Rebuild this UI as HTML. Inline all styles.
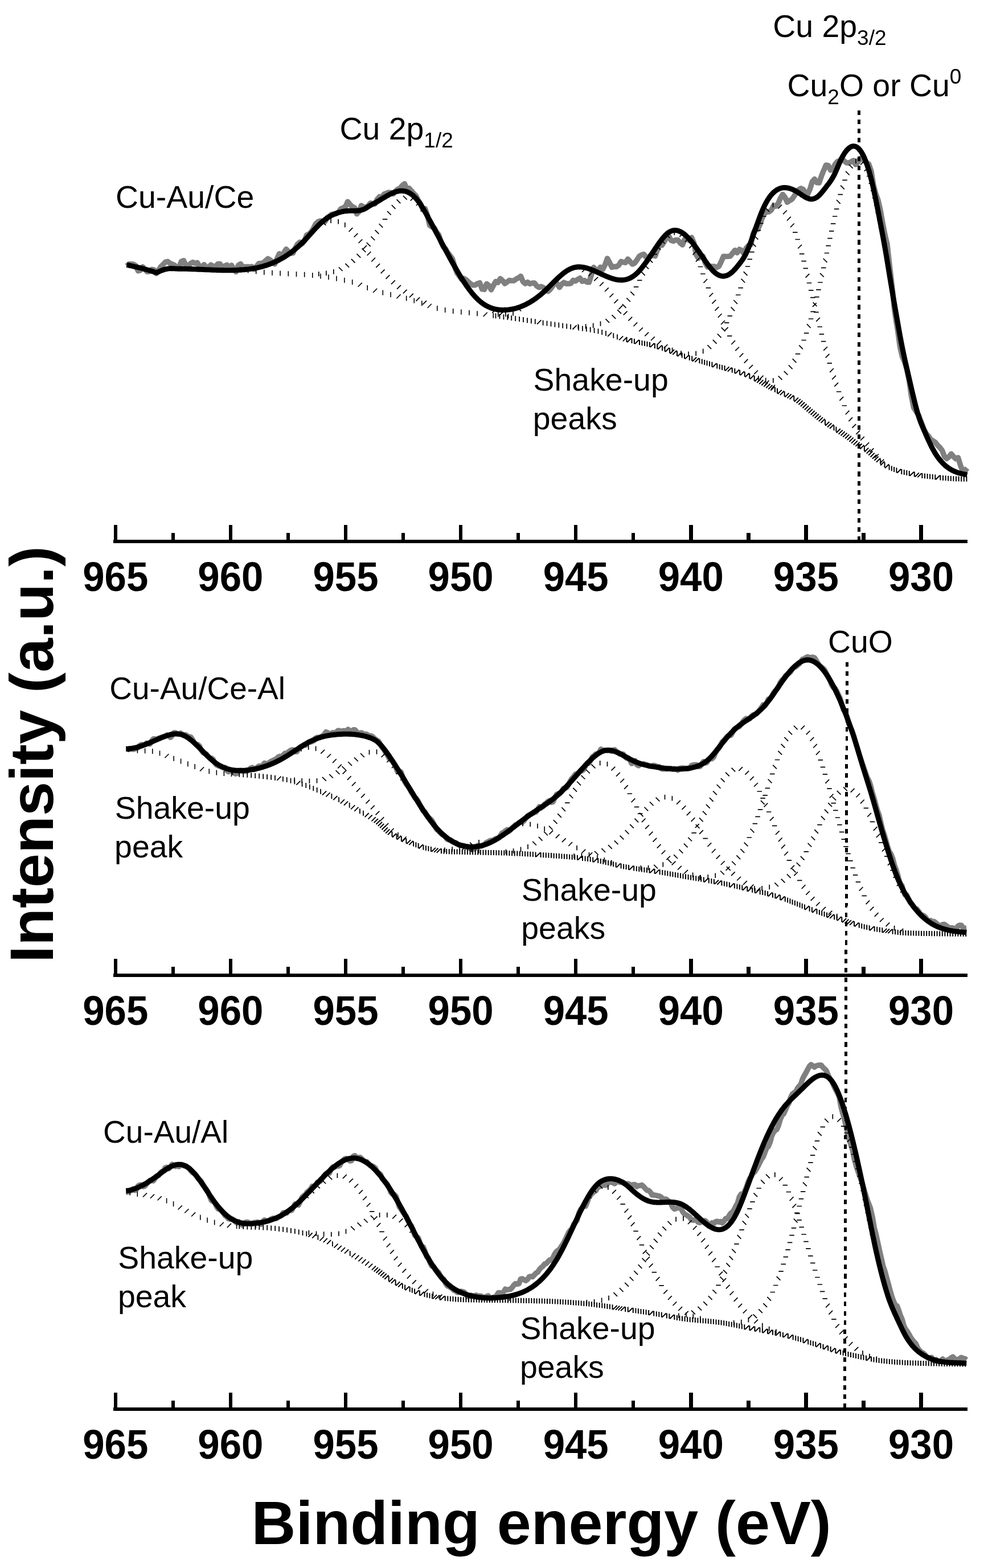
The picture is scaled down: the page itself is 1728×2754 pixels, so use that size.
<!DOCTYPE html>
<html lang="en"><head><meta charset="utf-8"><title>Cu 2p XPS spectra</title>
<style>
html,body{margin:0;padding:0;background:#fff}
body{width:1728px;height:2754px;overflow:hidden;position:relative;font-family:"Liberation Sans", sans-serif}
</style></head>
<body>
<svg width="1728" height="2754" viewBox="0 0 1728 2754" style="position:absolute;left:0;top:0;display:block">
<rect x="0" y="0" width="1728" height="2754" fill="#fff"/>
<path d="M222.5,467.3 L226.5,463.8 L230.5,463.8 L234.5,464.2 L238.5,466.8 L242.5,475.8 L246.5,474.7 L250.5,468.6 L254.5,472.9 L258.5,477.3 L262.5,476.8 L266.5,473.2 L270.5,473.9 L274.5,480.5 L278.5,474.3 L282.5,468.3 L286.5,464.5 L290.5,460.2 L294.5,459.3 L298.5,462.4 L302.5,464.1 L306.5,465.9 L310.5,470.8 L314.5,468.9 L318.5,459.1 L322.5,457.6 L326.5,466.0 L330.5,468.2 L334.5,462.8 L338.5,460.6 L342.5,462.5 L346.5,461.3 L350.5,468.5 L354.5,468.5 L358.5,464.7 L362.5,470.6 L366.5,468.7 L370.5,465.2 L374.5,467.6 L378.5,468.3 L382.5,463.5 L386.5,463.6 L390.5,472.7 L394.5,467.0 L398.5,465.3 L402.5,471.2 L406.5,465.9 L410.5,472.5 L414.5,477.4 L418.5,466.1 L422.5,463.5 L426.5,469.7 L430.5,468.5 L434.5,468.6 L438.5,468.7 L442.5,468.3 L446.5,473.1 L450.5,467.8 L454.5,462.7 L458.5,462.6 L462.5,461.5 L466.5,457.9 L470.5,454.3 L474.5,456.6 L478.5,460.5 L482.5,463.8 L486.5,454.3 L490.5,445.6 L494.5,450.5 L498.5,444.0 L502.5,437.6 L506.5,441.6 L510.5,444.9 L514.5,444.6 L518.5,435.8 L522.5,428.6 L526.5,425.3 L530.5,428.1 L534.5,423.5 L538.5,412.8 L542.5,411.1 L546.5,407.3 L550.5,400.9 L554.5,393.0 L558.5,389.5 L562.5,388.0 L566.5,388.6 L570.5,389.3 L574.5,382.2 L578.5,379.8 L582.5,376.4 L586.5,375.9 L590.5,375.4 L594.5,372.4 L598.5,366.8 L602.5,365.1 L606.5,363.1 L610.5,354.2 L614.5,358.9 L618.5,362.9 L622.5,364.6 L626.5,375.7 L630.5,371.9 L634.5,361.0 L638.5,363.4 L642.5,365.3 L646.5,361.5 L650.5,356.7 L654.5,357.7 L658.5,358.2 L662.5,349.9 L666.5,345.4 L670.5,346.8 L674.5,341.0 L678.5,339.5 L682.5,338.0 L686.5,338.5 L690.5,340.5 L694.5,336.0 L698.5,332.2 L702.5,330.9 L706.5,325.8 L710.5,322.8 L714.5,332.4 L718.5,330.7 L722.5,335.1 L726.5,339.9 L730.5,343.8 L734.5,351.9 L738.5,357.8 L742.5,367.7 L746.5,366.5 L750.5,377.8 L754.5,395.7 L758.5,398.6 L762.5,400.1 L766.5,407.4 L770.5,412.5 L774.5,424.6 L778.5,433.7 L782.5,437.1 L786.5,443.7 L790.5,449.0 L794.5,454.5 L798.5,468.3 L802.5,479.2 L806.5,484.8 L810.5,490.7 L814.5,489.1 L818.5,491.3 L822.5,495.0 L826.5,498.6 L830.5,500.7 L834.5,500.7 L838.5,498.0 L842.5,496.9 L846.5,507.9 L850.5,508.4 L854.5,498.5 L858.5,501.3 L862.5,508.9 L866.5,501.4 L870.5,494.5 L874.5,496.2 L878.5,489.3 L882.5,492.8 L886.5,498.0 L890.5,495.3 L894.5,492.3 L898.5,493.1 L902.5,493.0 L906.5,490.0 L910.5,488.0 L914.5,485.1 L918.5,494.8 L922.5,498.1 L926.5,495.5 L930.5,498.5 L934.5,497.3 L938.5,496.9 L942.5,502.2 L946.5,504.7 L950.5,503.3 L954.5,505.0 L958.5,509.7 L962.5,511.7 L966.5,508.1 L970.5,502.5 L974.5,494.6 L978.5,498.2 L982.5,504.7 L986.5,499.1 L990.5,496.1 L994.5,498.2 L998.5,498.3 L1002.5,497.8 L1006.5,492.3 L1010.5,493.8 L1014.5,490.8 L1018.5,488.5 L1022.5,494.2 L1026.5,492.6 L1030.5,495.4 L1034.5,495.7 L1038.5,483.0 L1042.5,469.6 L1046.5,474.3 L1050.5,474.6 L1054.5,469.2 L1058.5,473.1 L1062.5,465.2 L1066.5,453.9 L1070.5,461.1 L1074.5,469.4 L1078.5,468.2 L1082.5,468.4 L1086.5,465.9 L1090.5,459.4 L1094.5,460.5 L1098.5,461.2 L1102.5,455.0 L1106.5,459.3 L1110.5,464.0 L1114.5,462.1 L1118.5,456.7 L1122.5,450.3 L1126.5,447.7 L1130.5,446.5 L1134.5,451.7 L1138.5,451.7 L1142.5,448.8 L1146.5,448.5 L1150.5,449.6 L1154.5,438.7 L1158.5,430.1 L1162.5,430.7 L1166.5,424.4 L1170.5,417.6 L1174.5,414.9 L1178.5,422.2 L1182.5,423.6 L1186.5,421.5 L1190.5,421.5 L1194.5,426.8 L1198.5,430.0 L1202.5,420.1 L1206.5,419.4 L1210.5,422.6 L1214.5,417.1 L1218.5,426.4 L1222.5,447.1 L1226.5,453.7 L1230.5,449.3 L1234.5,449.9 L1238.5,461.8 L1242.5,468.9 L1246.5,467.4 L1250.5,467.9 L1254.5,467.9 L1258.5,469.7 L1262.5,467.7 L1266.5,459.6 L1270.5,450.2 L1274.5,450.6 L1278.5,450.3 L1282.5,449.9 L1286.5,444.8 L1290.5,439.6 L1294.5,444.0 L1298.5,437.9 L1302.5,440.0 L1306.5,445.6 L1310.5,435.5 L1314.5,431.1 L1318.5,429.5 L1322.5,410.6 L1326.5,402.3 L1330.5,403.2 L1334.5,394.4 L1338.5,383.0 L1342.5,374.9 L1346.5,372.2 L1350.5,372.0 L1354.5,369.0 L1358.5,361.0 L1362.5,362.1 L1366.5,357.6 L1370.5,348.2 L1374.5,341.4 L1378.5,346.5 L1382.5,355.3 L1386.5,352.2 L1390.5,350.2 L1394.5,344.7 L1398.5,338.3 L1402.5,333.1 L1406.5,330.9 L1410.5,332.6 L1414.5,339.3 L1418.5,340.7 L1422.5,331.8 L1426.5,318.7 L1430.5,314.6 L1434.5,320.8 L1438.5,321.0 L1442.5,309.3 L1446.5,299.3 L1450.5,290.0 L1454.5,290.6 L1458.5,298.9 L1462.5,296.9 L1466.5,288.5 L1470.5,283.8 L1474.5,282.1 L1478.5,278.3 L1482.5,282.8 L1486.5,285.8 L1490.5,286.2 L1494.5,284.1 L1498.5,281.9 L1502.5,288.8 L1506.5,285.0 L1510.5,278.3 L1515.3,280.4 L1520.6,284.7 L1525.7,288.2 L1530.0,300.7 L1534.0,325.7 L1538.0,340.4 L1542.0,351.5 L1546.0,369.0 L1550.0,391.7 L1554.0,412.2 L1558.0,429.1 L1561.7,461.8 L1564.7,487.0 L1567.4,510.3 L1570.4,542.0 L1573.4,561.9 L1576.6,581.3 L1580.5,609.1 L1584.5,626.3 L1588.5,635.6 L1592.5,649.0 L1596.5,668.6 L1600.5,695.9 L1604.5,715.7 L1608.5,722.3 L1612.9,728.8 L1617.7,740.9 L1622.4,753.8 L1626.5,761.3 L1630.5,765.8 L1634.5,771.8 L1638.5,774.3 L1642.5,776.9 L1646.5,782.1 L1650.5,786.0 L1654.5,791.1 L1658.5,801.7 L1662.5,805.5 L1666.5,802.3 L1670.5,797.2 L1674.5,802.0 L1678.5,805.8 L1682.5,803.7 L1686.5,816.9 L1690.5,827.5 L1694.5,827.1 L1698.5,822.0" fill="none" stroke="#808080" stroke-width="9.5" stroke-linejoin="round" stroke-linecap="butt"/>
<path d="M421.5,468.7L421.5,477.7M435.6,470.6L435.6,479.6M449.7,472.3L449.7,481.3M463.8,473.7L463.8,482.7M478.0,474.8L478.0,483.8M492.1,475.6L492.1,484.6M506.3,476.2L506.3,485.2M520.5,476.9L520.5,485.9M534.7,477.8L534.7,486.8M548.8,479.0L548.8,488.0M563.0,480.5L563.0,489.5M577.0,482.3L577.0,491.3M591.0,484.8L591.0,493.8M604.9,487.7L604.9,496.7M618.7,491.1L618.7,500.1M635.7,496.6L628.6,503.7M645.2,501.1L645.2,510.1M662.2,506.8L655.0,514.0M672.3,509.6L672.3,518.6M686.1,513.0L686.1,522.0M703.5,517.1L696.4,524.2M713.7,519.6L713.7,528.6M727.3,523.6L727.3,532.6M740.8,528.2L740.8,537.2M757.8,533.7L750.7,540.8M767.8,536.9L767.8,545.9M781.7,539.9L781.7,548.9M795.7,541.9L795.7,550.9M809.9,543.5L809.9,552.5M824.0,544.8L824.0,553.8M838.1,546.2L838.1,555.2M855.8,548.8L848.7,555.9M866.3,549.7L866.3,558.7" fill="none" stroke="#000" stroke-width="1.6"/>
<path d="M870.5,550.2L870.5,559.2M877.4,551.2L877.4,560.2M884.4,552.2L884.4,561.2M891.3,553.1L891.3,562.1M898.2,554.1L898.2,563.1M905.2,555.1L905.2,564.1M912.1,556.1L912.1,565.1M919.0,557.1L919.0,566.1M925.9,558.2L925.9,567.2M932.9,559.2L932.9,568.2M939.8,560.2L939.8,569.2M950.3,562.2L943.1,569.4M953.6,562.4L953.6,571.4M960.5,563.4L960.5,572.4M967.5,564.5L967.5,573.5M974.4,565.5L974.4,574.5M981.3,566.6L981.3,575.6M988.2,567.6L988.2,576.6M995.2,568.6L995.2,577.6M1002.1,569.5L1002.1,578.5M1012.6,571.4L1005.5,578.5M1016.0,571.4L1016.0,580.4M1022.9,572.4L1022.9,581.4M1029.8,573.5L1029.8,582.5M1036.7,574.6L1036.7,583.6M1043.6,575.9L1043.6,584.9M1050.5,577.3L1050.5,586.3M1057.2,579.0L1057.2,588.0M1064.0,580.9L1064.0,589.9M1074.2,583.9L1067.1,591.0M1077.3,585.1L1077.3,594.1M1084.0,587.3L1084.0,596.3M1094.2,590.3L1087.1,597.4M1101.0,592.2L1093.9,599.3" fill="none" stroke="#000" stroke-width="1.8"/>
<path d="M1100.5,592.0L1100.5,601.0M1108.5,594.0L1101.4,601.2M1109.5,594.1L1109.5,603.1M1113.9,595.1L1113.9,604.1M1122.0,597.0L1114.9,604.1M1123.0,597.0L1123.0,606.0M1127.5,597.9L1127.5,606.9M1132.0,598.8L1132.0,607.8M1136.5,599.8L1136.5,608.8M1141.0,600.8L1141.0,609.8M1149.0,602.8L1141.9,609.9M1149.9,603.0L1149.9,612.0M1154.3,604.2L1154.3,613.2M1162.3,606.4L1155.2,613.5M1163.1,606.9L1163.1,615.9M1167.5,608.4L1167.5,617.4M1175.4,610.8L1168.3,618.0M1176.1,611.5L1176.1,620.5M1184.0,614.0L1176.9,621.2M1188.3,615.7L1181.2,622.8M1189.0,616.4L1189.0,625.4M1196.9,618.9L1189.8,626.0M1197.7,619.5L1197.7,628.5M1202.0,621.0L1202.0,630.0M1210.0,623.4L1202.8,630.6M1210.8,623.9L1210.8,632.9M1215.2,625.3L1215.2,634.3M1223.1,627.5L1216.0,634.7M1227.5,628.9L1220.4,636.0M1228.4,629.3L1228.4,638.3M1232.8,630.6L1232.8,639.6M1237.2,631.9L1237.2,640.9M1241.6,633.2L1241.6,642.2M1246.0,634.4L1246.0,643.4M1250.4,635.7L1250.4,644.7M1258.4,638.0L1251.3,645.1M1259.3,638.4L1259.3,647.4M1263.7,639.7L1263.7,648.7M1268.1,640.9L1268.1,649.9M1272.5,642.1L1272.5,651.1M1280.5,644.3L1273.4,651.4M1285.0,645.5L1277.8,652.6M1285.8,645.8L1285.8,654.8M1290.3,647.1L1290.3,656.1M1298.2,649.3L1291.1,656.4M1299.1,649.7L1299.1,658.7M1307.0,652.1L1299.9,659.2M1307.8,652.7L1307.8,661.7M1315.7,655.2L1308.5,662.4M1316.3,656.0L1316.3,665.0M1324.1,658.9L1317.0,666.0M1324.7,660.0L1324.7,669.0M1332.3,663.0L1325.2,670.1M1336.4,665.2L1329.2,672.3M1340.4,667.4L1333.3,674.5M1344.4,669.7L1337.3,676.8M1348.4,672.0L1341.3,679.1M1352.4,674.2L1345.3,681.4M1356.4,676.5L1349.3,683.6M1360.4,678.7L1353.3,685.8M1360.9,679.9L1360.9,688.9M1365.0,682.0L1365.0,691.0M1372.8,684.9L1365.6,692.0M1377.0,686.8L1369.8,693.9M1377.6,687.6L1377.6,696.6M1385.4,690.4L1378.3,697.5M1389.6,692.2L1382.5,699.4M1393.8,694.2L1386.7,701.3M1394.3,695.3L1394.3,704.3M1401.9,698.5L1394.8,705.6M1405.8,700.9L1398.7,708.0M1409.5,703.6L1402.4,710.8M1413.1,706.5L1406.0,713.7M1416.6,709.5L1409.5,716.7M1420.1,712.6L1412.9,719.7M1423.6,715.5L1416.4,722.7M1427.1,718.4L1420.0,725.6M1430.7,721.4L1423.6,728.5M1434.2,724.3L1427.1,731.4M1437.8,727.2L1430.6,734.4M1441.4,730.1L1434.2,737.2M1445.0,732.9L1437.9,740.0M1448.7,735.6L1441.6,742.7M1449.0,737.3L1449.0,746.3M1456.4,740.7L1449.3,747.8M1460.3,743.2L1453.1,750.3M1464.2,745.6L1457.0,752.8M1464.5,747.2L1464.5,756.2M1468.4,749.6L1468.4,758.6M1475.8,753.0L1468.7,760.2M1479.7,755.5L1472.6,762.6M1483.6,757.9L1476.5,765.1M1487.4,760.4L1480.3,767.6M1491.2,763.1L1484.1,770.2M1494.9,765.8L1487.8,772.9M1498.6,768.6L1491.4,775.8M1502.2,771.5L1495.0,778.6M1505.9,774.2L1498.7,781.4M1509.7,776.8L1502.5,783.9M1513.6,779.2L1506.4,786.4M1517.5,781.6L1510.4,788.7M1517.9,783.0L1517.9,792.0M1525.2,786.6L1518.1,793.7M1528.8,789.4L1521.7,796.6M1532.3,792.5L1525.2,799.6M1535.7,795.6L1528.6,802.7M1539.1,798.7L1532.0,805.8M1542.6,801.6L1535.5,808.8M1546.2,804.6L1539.0,811.7M1546.2,806.5L1546.2,815.5M1553.3,810.3L1546.2,817.4M1553.5,812.0L1553.5,821.0M1561.1,815.3L1554.0,822.4M1561.6,816.4L1561.6,825.4M1565.8,818.3L1565.8,827.3M1570.1,820.0L1570.1,829.0M1574.4,821.5L1574.4,830.5M1582.4,823.7L1575.3,830.8M1583.3,823.9L1583.3,832.9M1587.8,825.0L1587.8,834.0M1592.3,825.9L1592.3,834.9M1596.8,826.9L1596.8,835.9M1604.9,828.7L1597.7,835.8M1605.8,828.6L1605.8,837.6M1613.9,830.4L1606.8,837.5M1618.5,831.1L1611.3,838.2M1619.4,830.9L1619.4,839.9M1624.0,831.5L1624.0,840.5M1628.6,832.0L1628.6,841.0M1633.1,832.6L1633.1,841.6M1637.7,833.1L1637.7,842.1M1642.3,833.6L1642.3,842.6M1650.4,835.0L1643.3,842.2M1651.4,834.6L1651.4,843.6M1656.0,835.0L1656.0,844.0M1660.6,835.3L1660.6,844.3M1665.2,835.7L1665.2,844.7M1669.8,835.9L1669.8,844.9M1674.4,836.2L1674.4,845.2M1679.0,836.4L1679.0,845.4M1683.6,836.5L1683.6,845.5M1688.2,836.7L1688.2,845.7M1692.8,836.7L1692.8,845.7M1697.4,836.8L1697.4,845.8" fill="none" stroke="#000" stroke-width="2.0"/>
<path d="M565.3,388.9L572.1,395.7M581.1,383.6L581.1,392.1M594.1,384.9L594.1,393.4M605.8,390.8L605.8,399.3M619.3,400.1L612.6,406.9M628.3,409.8L621.6,416.5M636.3,420.3L629.6,427.0M643.9,431.1L637.2,437.8M651.4,442.0L644.7,448.7M659.0,452.7L652.3,459.5M667.1,463.2L660.3,469.9M675.5,473.4L668.7,480.1M684.3,483.1L677.6,489.9M693.8,492.3L687.1,499.1M703.9,500.8L697.2,507.6M714.6,508.6L707.9,515.3M725.8,515.6L719.0,522.3M737.2,522.2L730.5,528.9M749.0,528.2L742.3,534.9" fill="none" stroke="#000" stroke-width="1.7"/>
<path d="M559.8,476.9L559.8,485.4M572.9,475.6L572.9,484.1M585.8,472.9L585.8,481.4M594.9,469.3L601.6,476.0M606.4,462.9L613.1,469.7M616.8,454.9L623.6,461.6M626.5,445.9L633.3,452.6M635.5,436.3L642.3,443.0M643.8,426.0L650.6,432.8M651.5,415.3L658.2,422.0M658.6,404.2L665.4,410.9M665.6,393.0L672.3,399.7M671.8,385.2L680.3,385.2M680.0,370.8L686.7,377.5M687.8,360.2L694.5,366.9M696.6,350.4L703.3,357.1M707.9,343.9L714.7,350.6M727.4,345.9L720.7,352.6M737.5,354.2L730.8,361.0M745.5,364.8L738.8,371.5" fill="none" stroke="#000" stroke-width="1.7"/>
<path d="M871.1,542.8L864.4,549.6M883.3,547.9L876.5,554.6M892.5,551.0L892.5,559.5" fill="none" stroke="#000" stroke-width="1.7"/>
<path d="M874.8,548.1L874.8,556.6M888.0,547.7L888.0,556.2M901.1,546.0L901.1,554.5M908.6,539.8L915.3,546.5" fill="none" stroke="#000" stroke-width="1.7"/>
<path d="M1028.8,471.2L1022.1,478.0M1039.9,478.2L1033.2,485.0M1050.1,486.7L1043.3,493.4M1059.8,495.6L1053.1,502.3M1068.8,505.3L1062.1,512.0M1077.2,515.5L1070.5,522.2M1085.3,525.9L1078.5,532.6M1093.3,536.4L1086.6,543.1M1101.6,546.7L1094.8,553.4M1110.2,556.7L1103.4,563.4M1119.2,566.3L1112.5,573.0M1128.9,575.3L1122.1,582.0M1139.1,583.7L1132.3,590.4M1149.8,591.3L1143.1,598.0M1161.0,598.3L1154.3,605.1M1172.4,605.0L1165.7,611.7M1180.6,610.4L1180.6,618.9" fill="none" stroke="#000" stroke-width="1.7"/>
<path d="M1015.4,569.2L1015.4,577.7M1028.6,568.9L1028.6,577.4M1041.7,567.4L1041.7,575.9M1054.5,564.2L1054.5,572.7M1063.4,560.1L1070.1,566.9M1074.5,553.1L1081.2,559.8M1084.2,544.2L1091.0,550.9M1092.8,534.1L1099.5,540.9M1100.3,523.3L1107.0,530.0M1107.2,512.1L1114.0,518.8M1112.8,503.9L1121.3,503.9M1119.0,492.3L1127.5,492.3M1125.9,477.2L1132.7,483.9M1132.4,465.7L1139.1,472.4M1139.5,454.5L1146.2,461.3M1145.6,446.7L1154.1,446.7M1153.5,432.1L1160.2,438.9M1160.8,421.2L1167.5,427.9M1169.4,411.1L1176.1,417.9M1184.3,404.5L1184.3,413.0M1200.0,409.2L1193.3,415.9M1209.5,418.3L1202.8,425.0M1217.0,429.1L1210.3,435.9M1223.3,440.8L1216.5,447.5M1228.6,452.8L1221.9,459.6M1234.2,468.5L1225.7,468.5M1238.6,481.0L1230.1,481.0M1242.2,490.0L1235.5,496.8M1248.1,505.6L1239.6,505.6M1252.2,514.5L1245.5,521.2M1257.2,526.7L1250.5,533.4M1262.3,538.9L1255.6,545.6M1267.5,551.0L1260.8,557.7M1272.9,563.0L1266.2,569.8M1278.6,574.9L1271.8,581.7M1285.5,590.1L1277.0,590.1M1291.0,598.2L1284.3,605.0M1297.9,609.5L1291.2,616.2M1305.3,620.4L1298.6,627.1M1313.4,630.8L1306.7,637.6M1322.0,640.9L1315.2,647.6M1331.0,650.5L1324.3,657.2M1340.5,659.7L1333.8,666.4M1350.5,668.3L1343.7,675.0M1361.0,676.2L1354.3,683.0" fill="none" stroke="#000" stroke-width="1.7"/>
<path d="M1196.0,616.1L1196.0,624.6M1209.1,617.6L1209.1,626.1M1222.2,616.6L1222.2,625.1M1234.7,612.4L1234.7,620.9M1242.4,606.1L1249.1,612.9M1251.8,596.9L1258.5,603.6M1259.8,586.4L1266.5,593.2M1266.7,575.2L1273.4,581.9M1271.9,566.8L1280.4,566.8M1277.5,554.9L1286.0,554.9M1283.5,539.3L1290.2,546.1M1288.3,527.0L1295.0,533.8M1292.0,518.0L1300.5,518.0M1296.4,505.6L1304.9,505.6M1301.6,489.7L1308.3,496.5M1305.7,477.2L1312.5,483.9M1308.7,468.0L1317.2,468.0M1312.5,455.3L1321.0,455.3M1316.2,442.6L1324.7,442.6M1320.8,426.6L1327.5,433.3M1324.6,414.0L1331.3,420.7M1327.7,404.7L1336.2,404.7M1332.0,392.3L1340.5,392.3M1337.0,380.0L1345.5,380.0M1344.3,365.2L1351.0,371.9M1357.5,355.8L1357.5,364.3M1373.1,359.7L1366.4,366.4M1381.9,369.5L1375.1,376.2M1388.8,380.7L1382.1,387.4M1394.7,392.5L1388.0,399.2M1400.6,408.1L1392.1,408.1M1404.9,420.5L1396.4,420.5M1407.9,429.8L1401.2,436.5M1412.4,445.8L1403.9,445.8M1415.8,458.6L1407.3,458.6M1419.0,471.4L1410.5,471.4M1421.3,480.8L1414.6,487.6M1425.3,497.0L1416.8,497.0M1428.5,509.9L1420.0,509.9M1431.5,522.7L1423.0,522.7M1433.7,532.2L1427.0,538.9M1437.7,548.4L1429.2,548.4M1439.9,557.8L1433.2,564.6M1443.9,574.0L1435.4,574.0M1447.1,586.8L1438.6,586.8M1450.4,599.6L1441.9,599.6M1453.0,609.0L1446.2,615.7M1456.5,621.7L1449.7,628.4M1461.0,637.8L1452.5,637.8M1463.9,647.0L1457.2,653.8M1467.9,659.6L1461.2,666.4M1472.0,672.2L1465.3,678.9M1477.3,688.0L1468.8,688.0M1481.2,696.9L1474.4,703.7M1487.1,712.5L1478.6,712.5M1491.5,721.2L1484.8,728.0M1497.1,733.2L1490.4,739.9M1503.2,744.9L1496.4,751.6M1510.0,756.2L1503.3,762.9M1517.8,766.8L1511.1,773.5M1526.2,777.0L1519.4,783.8M1534.3,787.4L1527.6,794.2M1542.9,797.5L1536.2,804.2M1552.2,806.8L1545.4,813.6" fill="none" stroke="#000" stroke-width="1.7"/>
<path d="M1331.9,660.1L1331.9,668.6M1344.7,663.5L1344.7,672.0M1357.8,664.0L1357.8,672.5M1366.7,660.4L1373.5,667.1M1376.7,651.8L1383.5,658.5M1384.8,641.4L1391.6,648.1M1391.7,630.1L1398.4,636.9M1396.8,621.7L1405.3,621.7M1403.2,606.4L1409.9,613.1M1407.3,597.5L1415.8,597.5M1411.9,585.1L1420.4,585.1M1416.9,569.2L1423.6,576.0M1419.8,560.0L1428.3,560.0M1423.4,547.3L1431.9,547.3M1427.7,531.1L1434.4,537.9M1430.1,521.7L1438.6,521.7M1433.2,508.9L1441.7,508.9M1436.2,496.0L1444.7,496.0M1440.0,479.8L1446.8,486.5M1442.0,470.3L1450.5,470.3M1445.7,454.0L1452.5,460.8M1447.6,444.5L1456.1,444.5M1450.4,431.6L1458.9,431.6M1453.2,418.7L1461.7,418.7M1456.0,405.8L1464.5,405.8M1458.9,392.9L1467.4,392.9M1461.9,380.0L1470.4,380.0M1464.9,367.2L1473.4,367.2M1469.0,351.0L1475.7,357.8M1471.5,341.6L1480.0,341.6M1476.1,325.6L1482.8,332.3M1479.3,316.4L1487.8,316.4M1485.0,300.8L1491.7,307.5M1490.9,289.0L1497.6,295.7M1503.0,278.4L1503.0,286.9M1517.9,282.5L1511.2,289.3M1524.6,293.8L1517.9,300.6M1530.3,309.5L1521.8,309.5M1534.1,322.1L1525.6,322.1M1537.5,334.9L1529.0,334.9M1540.5,347.8L1532.0,347.8M1543.3,360.7L1534.8,360.7M1546.0,373.6L1537.5,373.6M1548.6,386.5L1540.1,386.5M1551.1,399.5L1542.6,399.5" fill="none" stroke="#000" stroke-width="1.7"/>
<path d="M221.3,1315.6 L224.3,1315.8 L227.3,1316.0 L230.3,1315.5 L233.3,1315.9 L236.3,1315.8 L239.3,1313.9 L242.3,1313.1 L245.3,1309.6 L248.3,1307.8 L251.3,1308.5 L254.3,1307.9 L257.3,1305.2 L260.3,1306.0 L263.3,1306.8 L266.3,1301.5 L269.3,1297.7 L272.3,1297.7 L275.3,1298.7 L278.3,1296.7 L281.3,1295.7 L284.3,1294.6 L287.3,1294.0 L290.3,1292.8 L293.3,1290.9 L296.3,1292.4 L299.3,1295.3 L302.3,1291.8 L305.3,1287.1 L308.3,1287.1 L311.3,1288.9 L314.3,1288.8 L317.3,1287.6 L320.3,1290.0 L323.3,1290.5 L326.3,1290.7 L329.3,1293.3 L332.3,1293.7 L335.3,1294.7 L338.3,1299.5 L341.3,1304.5 L344.3,1307.6 L347.3,1307.8 L350.3,1310.4 L353.3,1317.1 L356.3,1321.6 L359.3,1323.4 L362.3,1324.3 L365.3,1328.3 L368.3,1331.5 L371.3,1331.7 L374.3,1333.9 L377.3,1340.0 L380.3,1343.6 L383.3,1345.1 L386.3,1345.8 L389.3,1347.1 L392.3,1348.3 L395.3,1347.9 L398.3,1353.3 L401.3,1355.6 L404.3,1352.8 L407.3,1353.4 L410.3,1356.1 L413.3,1359.1 L416.3,1358.3 L419.3,1353.7 L422.3,1353.1 L425.3,1354.5 L428.3,1353.9 L431.3,1354.7 L434.3,1354.0 L437.3,1352.2 L440.3,1349.0 L443.3,1348.0 L446.3,1351.5 L449.3,1350.5 L452.3,1347.1 L455.3,1345.3 L458.3,1346.6 L461.3,1344.1 L464.3,1340.4 L467.3,1341.3 L470.3,1341.3 L473.3,1338.9 L476.3,1337.0 L479.3,1335.9 L482.3,1334.2 L485.3,1333.0 L488.3,1329.7 L491.3,1328.3 L494.3,1329.5 L497.3,1326.4 L500.3,1323.1 L503.3,1323.7 L506.3,1320.8 L509.3,1318.6 L512.3,1317.1 L515.3,1317.0 L518.3,1320.3 L521.3,1320.2 L524.3,1315.2 L527.3,1312.0 L530.3,1311.0 L533.3,1308.6 L536.3,1309.1 L539.3,1305.5 L542.3,1303.2 L545.3,1303.3 L548.3,1302.2 L551.3,1300.9 L554.3,1296.4 L557.3,1295.1 L560.3,1295.6 L563.3,1294.0 L566.3,1292.4 L569.3,1290.4 L572.3,1285.7 L575.3,1286.8 L578.3,1290.0 L581.3,1288.2 L584.3,1286.7 L587.3,1287.4 L590.3,1286.2 L593.3,1283.3 L596.3,1283.2 L599.3,1285.6 L602.3,1283.6 L605.3,1283.4 L608.3,1284.3 L611.3,1281.0 L614.3,1283.7 L617.3,1285.2 L620.3,1281.8 L623.3,1281.8 L626.3,1285.4 L629.3,1288.3 L632.3,1287.2 L635.3,1287.0 L638.3,1289.6 L641.3,1289.2 L644.3,1289.9 L647.3,1292.1 L650.3,1292.2 L653.3,1293.0 L656.3,1295.7 L659.3,1298.6 L662.3,1300.3 L665.3,1302.6 L668.3,1308.4 L671.3,1313.0 L674.3,1316.6 L677.3,1322.1 L680.3,1325.9 L683.3,1331.8 L686.3,1334.2 L689.3,1336.6 L692.3,1342.0 L695.3,1348.1 L698.3,1355.7 L701.3,1355.1 L704.3,1356.1 L707.3,1364.7 L710.3,1372.1 L713.3,1377.1 L716.3,1380.9 L719.3,1385.4 L722.3,1391.4 L725.3,1395.5 L728.3,1401.0 L731.3,1402.7 L734.3,1407.0 L737.3,1413.4 L740.3,1418.5 L743.3,1424.3 L746.3,1426.1 L749.3,1431.3 L752.3,1435.5 L755.3,1437.8 L758.3,1440.8 L761.3,1445.9 L764.3,1452.4 L767.3,1457.3 L770.3,1459.6 L773.3,1462.7 L776.3,1465.8 L779.3,1466.9 L782.3,1470.2 L785.3,1474.2 L788.3,1475.1 L791.3,1475.2 L794.3,1477.3 L797.3,1479.4 L800.3,1479.9 L803.3,1482.6 L806.3,1484.4 L809.3,1484.7 L812.3,1484.9 L815.3,1485.5 L818.3,1487.8 L821.3,1487.1 L824.3,1489.6 L827.3,1490.9 L830.3,1490.5 L833.3,1491.2 L836.3,1487.4 L839.3,1485.1 L842.3,1486.1 L845.3,1486.1 L848.3,1484.7 L851.3,1483.3 L854.3,1479.6 L857.3,1478.5 L860.3,1476.6 L863.3,1476.0 L866.3,1476.6 L869.3,1473.4 L872.3,1472.4 L875.3,1472.0 L878.3,1468.4 L881.3,1463.5 L884.3,1462.0 L887.3,1459.4 L890.3,1457.4 L893.3,1460.3 L896.3,1457.9 L899.3,1454.3 L902.3,1451.6 L905.3,1448.7 L908.3,1447.9 L911.3,1445.0 L914.3,1444.0 L917.3,1444.2 L920.3,1441.4 L923.3,1436.9 L926.3,1433.0 L929.3,1431.5 L932.3,1430.4 L935.3,1428.7 L938.3,1427.0 L941.3,1426.3 L944.3,1421.6 L947.3,1416.7 L950.3,1418.8 L953.3,1416.8 L956.3,1412.4 L959.3,1410.5 L962.3,1407.6 L965.3,1406.0 L968.3,1409.1 L971.3,1408.3 L974.3,1400.8 L977.3,1395.5 L980.3,1393.8 L983.3,1393.7 L986.3,1390.3 L989.3,1384.9 L992.3,1384.2 L995.3,1383.2 L998.3,1378.2 L1001.3,1372.1 L1004.3,1367.1 L1007.3,1364.3 L1010.3,1359.9 L1013.3,1358.6 L1016.3,1357.4 L1019.3,1353.6 L1022.3,1353.8 L1025.3,1351.5 L1028.3,1344.0 L1031.3,1340.3 L1034.3,1340.5 L1037.3,1335.2 L1040.3,1329.4 L1043.3,1327.6 L1046.3,1324.2 L1049.3,1324.2 L1052.3,1321.1 L1055.3,1315.8 L1058.3,1317.5 L1061.3,1317.7 L1064.3,1317.7 L1067.3,1318.2 L1070.3,1317.8 L1073.3,1319.4 L1076.3,1317.4 L1079.3,1316.8 L1082.3,1319.9 L1085.3,1321.4 L1088.3,1324.1 L1091.3,1324.2 L1094.3,1324.5 L1097.3,1328.6 L1100.3,1331.7 L1103.3,1331.3 L1106.3,1335.3 L1109.3,1341.1 L1112.3,1337.6 L1115.3,1336.1 L1118.3,1343.0 L1121.3,1344.8 L1124.3,1342.6 L1127.3,1342.1 L1130.3,1341.8 L1133.3,1342.6 L1136.3,1343.3 L1139.3,1345.3 L1142.3,1346.1 L1145.3,1344.9 L1148.3,1344.3 L1151.3,1345.3 L1154.3,1346.2 L1157.3,1346.5 L1160.3,1349.6 L1163.3,1350.8 L1166.3,1350.4 L1169.3,1350.7 L1172.3,1350.4 L1175.3,1350.0 L1178.3,1349.7 L1181.3,1351.2 L1184.3,1350.2 L1187.3,1351.1 L1190.3,1352.7 L1193.3,1349.7 L1196.3,1348.9 L1199.3,1348.8 L1202.3,1349.5 L1205.3,1349.2 L1208.3,1350.2 L1211.3,1349.6 L1214.3,1344.3 L1217.3,1343.7 L1220.3,1343.3 L1223.3,1343.3 L1226.3,1346.6 L1229.3,1346.2 L1232.3,1341.4 L1235.3,1337.6 L1238.3,1340.1 L1241.3,1339.3 L1244.3,1334.3 L1247.3,1332.4 L1250.3,1332.7 L1253.3,1329.6 L1256.3,1322.6 L1259.3,1317.5 L1262.3,1314.3 L1265.3,1309.2 L1268.3,1303.0 L1271.3,1300.3 L1274.3,1296.9 L1277.3,1293.2 L1280.3,1291.3 L1283.3,1291.5 L1286.3,1287.0 L1289.3,1280.6 L1292.3,1278.8 L1295.3,1277.0 L1298.3,1276.3 L1301.3,1272.7 L1304.3,1267.9 L1307.3,1264.3 L1310.3,1262.1 L1313.3,1263.2 L1316.3,1262.6 L1319.3,1258.4 L1322.3,1255.7 L1325.3,1255.0 L1328.3,1253.9 L1331.3,1250.5 L1334.3,1246.8 L1337.3,1242.3 L1340.3,1237.9 L1343.3,1239.5 L1346.3,1234.5 L1349.3,1227.9 L1352.3,1227.3 L1355.3,1223.1 L1358.3,1217.4 L1361.3,1213.4 L1364.3,1210.2 L1367.3,1205.8 L1370.3,1198.7 L1373.3,1194.4 L1376.3,1191.6 L1379.3,1187.0 L1382.3,1184.6 L1385.3,1182.6 L1388.3,1180.1 L1391.3,1175.2 L1394.3,1172.0 L1397.3,1171.2 L1400.3,1168.6 L1403.3,1166.2 L1406.3,1161.9 L1409.3,1157.7 L1412.3,1157.5 L1415.3,1154.8 L1418.3,1153.5 L1421.3,1154.8 L1424.3,1154.8 L1427.3,1154.3 L1430.3,1155.2 L1433.3,1159.8 L1436.3,1164.9 L1439.3,1169.3 L1442.3,1171.4 L1445.3,1173.7 L1448.3,1177.2 L1451.3,1182.9 L1454.3,1188.8 L1457.3,1194.4 L1460.3,1202.7 L1463.3,1207.3 L1466.3,1208.6 L1469.3,1213.7 L1472.3,1220.2 L1475.3,1226.5 L1478.3,1237.4 L1481.3,1246.7 L1484.3,1250.3 L1487.3,1258.6 L1490.3,1270.6 L1493.3,1277.5 L1496.3,1283.4 L1499.3,1292.4 L1502.4,1303.2 L1505.7,1314.3 L1509.2,1325.7 L1512.8,1336.7 L1516.3,1346.7 L1519.7,1356.6 L1522.8,1365.4 L1525.8,1370.9 L1528.8,1379.3 L1531.8,1391.8 L1534.8,1401.6 L1537.8,1412.8 L1540.8,1423.4 L1543.8,1431.4 L1546.8,1444.5 L1549.8,1457.2 L1552.8,1465.8 L1555.8,1476.2 L1558.8,1487.2 L1561.8,1496.0 L1564.8,1500.5 L1567.8,1508.3 L1570.8,1519.9 L1573.8,1527.8 L1576.5,1536.5 L1579.0,1546.7 L1581.5,1552.5 L1584.0,1555.5 L1586.5,1565.0 L1589.3,1571.5 L1592.3,1572.0 L1595.3,1577.9 L1598.3,1584.8 L1601.3,1587.8 L1604.3,1592.3 L1607.3,1596.2 L1610.3,1596.9 L1613.3,1600.8 L1616.3,1605.7 L1619.3,1606.9 L1622.3,1608.4 L1625.3,1611.1 L1628.3,1616.4 L1631.3,1617.1 L1634.3,1616.7 L1637.3,1619.1 L1640.3,1618.4 L1643.3,1620.8 L1646.3,1623.5 L1649.3,1625.4 L1652.3,1625.6 L1655.3,1623.8 L1658.3,1623.4 L1661.3,1625.6 L1664.3,1627.8 L1667.3,1629.6 L1670.3,1629.8 L1673.3,1629.7 L1676.3,1631.6 L1679.3,1630.6 L1682.3,1626.7 L1685.3,1625.0 L1688.3,1625.3 L1691.3,1629.5 L1694.3,1630.5 L1697.3,1630.2" fill="none" stroke="#808080" stroke-width="9.5" stroke-linejoin="round" stroke-linecap="butt"/>
<path d="M231.9,1313.6L224.7,1320.7M241.4,1313.8L241.4,1322.8M254.6,1314.3L254.6,1323.3M267.8,1315.1L267.8,1324.1M280.5,1318.6L280.5,1327.6M296.4,1324.2L289.3,1331.3M305.2,1327.8L305.2,1336.8M317.6,1332.6L317.6,1341.6M329.9,1337.3L329.9,1346.3M342.2,1342.0L342.2,1351.0M358.2,1347.3L351.1,1354.4M367.3,1350.3L367.3,1359.3M380.3,1352.6L380.3,1361.6M393.4,1354.1L393.4,1363.1M406.5,1355.1L406.5,1364.1" fill="none" stroke="#000" stroke-width="1.6"/>
<path d="M420.3,1355.8L420.3,1364.8M427.3,1356.2L427.3,1365.2M434.3,1356.7L434.3,1365.7M441.2,1357.3L441.2,1366.3M448.2,1357.9L448.2,1366.9M455.2,1358.5L455.2,1367.5M462.2,1359.2L462.2,1368.2M469.1,1360.0L469.1,1369.0M476.1,1360.8L476.1,1369.8M483.0,1361.7L483.0,1370.7M493.5,1363.6L486.4,1370.7M496.9,1363.8L496.9,1372.8M503.7,1365.1L503.7,1374.1M510.5,1366.8L510.5,1375.8M517.3,1368.6L517.3,1377.6M527.5,1371.6L520.4,1378.7M530.6,1372.8L530.6,1381.8M537.3,1375.1L537.3,1384.1M543.8,1377.6L543.8,1386.6M550.3,1380.2L550.3,1389.2M556.7,1383.0L556.7,1392.0M563.1,1385.7L563.1,1394.7M573.2,1389.4L566.0,1396.5M579.6,1392.2L572.4,1399.3M582.4,1394.1L582.4,1403.1M592.3,1398.0L585.2,1405.1M595.1,1400.1L595.1,1409.1M604.9,1404.1L597.8,1411.3M611.1,1407.4L604.0,1414.5M613.7,1409.8L613.7,1418.8M623.3,1414.2L616.2,1421.3M629.4,1417.7L622.3,1424.8M631.9,1420.2L631.9,1429.2M638.0,1423.7L638.0,1432.7M647.7,1428.0L640.6,1435.1M653.7,1431.5L646.6,1438.6M659.7,1435.2L652.6,1442.3" fill="none" stroke="#000" stroke-width="1.8"/>
<path d="M663.9,1438.0L656.7,1445.1M667.6,1440.7L660.5,1447.8M671.0,1443.7L663.9,1450.9M674.3,1446.9L667.2,1454.1M677.6,1450.2L670.5,1457.3M680.9,1453.4L673.8,1460.5M684.4,1456.4L677.2,1463.6M688.1,1459.0L681.0,1466.2M688.5,1460.5L688.5,1469.5M696.1,1463.7L688.9,1470.8M696.6,1464.9L696.6,1473.9M704.3,1467.8L697.2,1474.9M704.9,1468.8L704.9,1477.8M712.7,1471.6L705.6,1478.7M713.4,1472.4L713.4,1481.4M721.2,1475.1L714.1,1482.2M725.4,1476.9L718.3,1484.0M726.1,1477.6L726.1,1486.6M730.4,1479.3L730.4,1488.3M734.7,1480.9L734.7,1489.9M742.7,1483.3L735.5,1490.5M743.5,1483.8L743.5,1492.8M747.9,1484.9L747.9,1493.9M752.4,1486.0L752.4,1495.0M756.9,1487.0L756.9,1496.0M765.0,1488.9L757.8,1496.0M769.5,1489.8L762.3,1496.9M774.0,1490.6L766.9,1497.7M775.0,1490.3L775.0,1499.3M779.6,1490.7L779.6,1499.7M784.2,1491.0L784.2,1500.0M788.8,1491.2L788.8,1500.2M793.4,1491.4L793.4,1500.4M798.0,1491.5L798.0,1500.5M802.6,1491.6L802.6,1500.6M807.2,1491.7L807.2,1500.7M811.8,1491.8L811.8,1500.8M816.4,1491.9L816.4,1500.9M820.9,1492.1L820.9,1501.1M825.5,1492.2L825.5,1501.2M830.1,1492.3L830.1,1501.3M834.7,1492.4L834.7,1501.4M839.3,1492.5L839.3,1501.5M843.9,1492.6L843.9,1501.6M848.5,1492.7L848.5,1501.7M853.1,1492.8L853.1,1501.8M857.7,1492.9L857.7,1501.9M862.3,1493.0L862.3,1502.0M866.9,1493.1L866.9,1502.1M871.5,1493.2L871.5,1502.2M876.1,1493.3L876.1,1502.3M880.7,1493.5L880.7,1502.5M885.3,1493.6L885.3,1502.6M889.9,1493.8L889.9,1502.8M894.5,1494.0L894.5,1503.0M899.1,1494.2L899.1,1503.2M903.7,1494.4L903.7,1503.4M908.3,1494.6L908.3,1503.6M912.9,1494.8L912.9,1503.8M917.5,1495.1L917.5,1504.1M922.1,1495.3L922.1,1504.3M926.7,1495.6L926.7,1504.6M931.3,1495.8L931.3,1504.8M935.9,1496.1L935.9,1505.1M940.5,1496.4L940.5,1505.4M948.6,1497.6L941.5,1504.7M949.6,1496.9L949.6,1505.9M954.2,1497.2L954.2,1506.2M958.8,1497.5L958.8,1506.5M963.4,1497.8L963.4,1506.8M968.0,1498.1L968.0,1507.1M972.6,1498.4L972.6,1507.4M977.2,1498.7L977.2,1507.7M981.8,1499.0L981.8,1508.0M986.4,1499.4L986.4,1508.4M990.9,1499.7L990.9,1508.7M995.5,1500.1L995.5,1509.1M1000.1,1500.5L1000.1,1509.5M1004.7,1500.9L1004.7,1509.9M1009.3,1501.3L1009.3,1510.3M1013.9,1501.8L1013.9,1510.8M1022.0,1503.2L1014.9,1510.4M1023.0,1502.9L1023.0,1511.9M1027.6,1503.5L1027.6,1512.5M1032.1,1504.1L1032.1,1513.1M1036.7,1504.8L1036.7,1513.8M1041.2,1505.6L1041.2,1514.6M1049.3,1507.3L1042.2,1514.4M1050.3,1507.1L1050.3,1516.1M1054.8,1508.0L1054.8,1517.0M1059.3,1509.0L1059.3,1518.0M1063.7,1510.0L1063.7,1519.0M1068.2,1511.1L1068.2,1520.1M1072.7,1512.2L1072.7,1521.2M1077.1,1513.3L1077.1,1522.3M1081.6,1514.4L1081.6,1523.4M1089.7,1516.4L1082.5,1523.6M1090.6,1516.5L1090.6,1525.5M1095.1,1517.5L1095.1,1526.5M1099.6,1518.3L1099.6,1527.3M1104.1,1519.1L1104.1,1528.1M1112.2,1520.8L1105.1,1527.9M1113.2,1520.6L1113.2,1529.6M1117.8,1521.2L1117.8,1530.2M1122.3,1521.9L1122.3,1530.9M1126.9,1522.5L1126.9,1531.5M1131.4,1523.2L1131.4,1532.2M1136.0,1523.8L1136.0,1532.8M1140.5,1524.4L1140.5,1533.4M1148.7,1526.0L1141.5,1533.1M1149.6,1525.8L1149.6,1534.8M1157.7,1527.4L1150.6,1534.6M1158.7,1527.2L1158.7,1536.2M1163.3,1528.0L1163.3,1537.0M1167.8,1528.8L1167.8,1537.8M1172.3,1529.6L1172.3,1538.6M1176.9,1530.4L1176.9,1539.4M1181.4,1531.2L1181.4,1540.2M1185.9,1532.0L1185.9,1541.0M1190.4,1532.8L1190.4,1541.8M1195.0,1533.6L1195.0,1542.6M1199.5,1534.4L1199.5,1543.4M1204.0,1535.2L1204.0,1544.2M1208.6,1536.0L1208.6,1545.0M1213.1,1536.8L1213.1,1545.8M1217.6,1537.5L1217.6,1546.5M1222.2,1538.3L1222.2,1547.3M1226.7,1539.1L1226.7,1548.1M1231.2,1539.8L1231.2,1548.8M1235.8,1540.6L1235.8,1549.6M1243.9,1542.3L1236.7,1549.5M1244.8,1542.2L1244.8,1551.2M1249.4,1543.0L1249.4,1552.0M1253.9,1543.9L1253.9,1552.9M1262.0,1545.7L1254.8,1552.8M1266.5,1546.6L1259.3,1553.7M1267.4,1546.6L1267.4,1555.6M1271.9,1547.5L1271.9,1556.5M1276.4,1548.5L1276.4,1557.5M1280.9,1549.4L1280.9,1558.4M1289.0,1551.4L1281.8,1558.5M1289.9,1551.5L1289.9,1560.5M1294.4,1552.5L1294.4,1561.5M1298.9,1553.5L1298.9,1562.5M1303.3,1554.6L1303.3,1563.6M1311.4,1556.5L1304.2,1563.7M1312.3,1556.7L1312.3,1565.7M1320.3,1558.6L1313.2,1565.8M1321.2,1558.8L1321.2,1567.8M1325.7,1559.8L1325.7,1568.8M1333.8,1561.8L1326.6,1568.9M1334.7,1561.9L1334.7,1570.9M1339.2,1563.0L1339.2,1572.0M1343.6,1564.1L1343.6,1573.1M1348.1,1565.2L1348.1,1574.2M1356.1,1567.4L1349.0,1574.5M1357.0,1567.7L1357.0,1576.7M1361.4,1568.9L1361.4,1577.9M1369.3,1571.2L1362.2,1578.3M1370.1,1571.7L1370.1,1580.7M1378.0,1574.2L1370.9,1581.3M1378.8,1574.8L1378.8,1583.8M1383.1,1576.5L1383.1,1585.5M1387.4,1578.2L1387.4,1587.2M1391.6,1579.9L1391.6,1588.9M1395.9,1581.6L1395.9,1590.6M1400.2,1583.3L1400.2,1592.3M1404.5,1585.0L1404.5,1594.0M1408.7,1586.7L1408.7,1595.7M1413.0,1588.4L1413.0,1597.4M1420.9,1591.0L1413.7,1598.1M1421.6,1591.7L1421.6,1600.7M1425.9,1593.3L1425.9,1602.3M1433.8,1595.9L1426.6,1603.0M1434.5,1596.5L1434.5,1605.5M1438.9,1598.0L1438.9,1607.0M1443.2,1599.5L1443.2,1608.5M1447.6,1601.0L1447.6,1610.0M1452.0,1602.4L1452.0,1611.4M1459.9,1604.6L1452.8,1611.7M1464.4,1605.9L1457.2,1613.0M1465.2,1606.2L1465.2,1615.2M1469.6,1607.6L1469.6,1616.6M1477.5,1609.9L1470.4,1617.1M1478.3,1610.5L1478.3,1619.5M1486.2,1613.0L1479.1,1620.2M1490.5,1614.6L1483.4,1621.7M1494.9,1616.1L1487.7,1623.3M1499.2,1617.6L1492.1,1624.7M1500.0,1618.1L1500.0,1627.1M1508.0,1620.4L1500.9,1627.5M1508.8,1620.8L1508.8,1629.8M1513.2,1622.1L1513.2,1631.1M1517.7,1623.3L1517.7,1632.3M1522.2,1624.3L1522.2,1633.3M1526.7,1625.3L1526.7,1634.3M1534.8,1627.1L1527.6,1634.2M1535.7,1627.0L1535.7,1636.0M1540.2,1627.8L1540.2,1636.8M1544.8,1628.6L1544.8,1637.6M1549.3,1629.3L1549.3,1638.3M1557.4,1630.9L1550.3,1638.0M1562.0,1631.5L1554.9,1638.6M1566.6,1632.1L1559.4,1639.2M1567.6,1631.7L1567.6,1640.7M1572.1,1632.3L1572.1,1641.3M1576.7,1632.9L1576.7,1641.9M1581.3,1633.4L1581.3,1642.4M1585.8,1633.8L1585.8,1642.8M1590.4,1634.1L1590.4,1643.1M1595.0,1634.2L1595.0,1643.2M1599.6,1634.4L1599.6,1643.4M1604.2,1634.5L1604.2,1643.5M1608.8,1634.7L1608.8,1643.7M1613.4,1634.8L1613.4,1643.8M1618.0,1634.9L1618.0,1643.9M1622.6,1635.0L1622.6,1644.0M1627.2,1635.0L1627.2,1644.0M1631.8,1635.1L1631.8,1644.1M1636.4,1635.2L1636.4,1644.2M1641.0,1635.3L1641.0,1644.3M1645.6,1635.3L1645.6,1644.3M1650.2,1635.4L1650.2,1644.4M1654.8,1635.5L1654.8,1644.5M1659.4,1635.5L1659.4,1644.5M1664.0,1635.6L1664.0,1644.6M1668.6,1635.7L1668.6,1644.7M1673.2,1635.7L1673.2,1644.7M1677.8,1635.8L1677.8,1644.8M1682.4,1635.8L1682.4,1644.8M1687.0,1635.8L1687.0,1644.8M1691.6,1635.9L1691.6,1644.9M1696.2,1635.9L1696.2,1644.9" fill="none" stroke="#000" stroke-width="2.0"/>
<path d="M408.4,1352.9L408.4,1361.4" fill="none" stroke="#000" stroke-width="1.7"/>
<path d="M528.9,1311.2L528.9,1319.7M541.7,1308.5L541.7,1317.0M554.6,1310.6L554.6,1319.1M570.1,1316.8L563.3,1323.6M581.0,1324.3L574.2,1331.0M590.8,1333.0L584.1,1339.8M599.9,1342.6L593.2,1349.3M608.4,1352.7L601.7,1359.4M616.6,1363.1L609.9,1369.8M624.6,1373.6L617.9,1380.3M632.6,1384.0L625.9,1390.8M640.8,1394.4L634.1,1401.1M649.2,1404.6L642.5,1411.3M657.8,1414.6L651.0,1421.4M666.3,1424.7L659.6,1431.4M674.3,1435.2L667.5,1442.0M682.2,1445.8L675.5,1452.5M691.6,1455.0L684.9,1461.7M698.9,1461.9L698.9,1470.4M713.6,1469.5L706.9,1476.3" fill="none" stroke="#000" stroke-width="1.7"/>
<path d="M517.1,1365.5L517.1,1374.0M530.2,1367.0L530.2,1375.5M543.4,1367.6L543.4,1376.1M556.5,1366.9L556.5,1375.4M566.0,1364.9L572.8,1371.6M578.2,1359.8L584.9,1366.5M589.6,1353.2L596.4,1359.9M600.5,1345.8L607.3,1352.5M611.2,1338.0L618.0,1344.8M622.0,1330.3L628.7,1337.1M633.1,1323.2L639.8,1330.0M648.5,1317.0L648.5,1325.5M661.5,1316.2L661.5,1324.7M676.4,1323.2L669.7,1329.9M686.0,1332.3L679.3,1339.0M694.6,1342.3L687.9,1349.0M702.5,1352.9L695.7,1359.6M709.9,1363.7L703.2,1370.5" fill="none" stroke="#000" stroke-width="1.7"/>
<path d="M818.5,1485.9L811.8,1492.6M827.9,1488.3L827.9,1496.8M840.9,1490.5L840.9,1499.0" fill="none" stroke="#000" stroke-width="1.7"/>
<path d="M781.0,1488.5L781.0,1497.0M794.2,1487.2L794.2,1495.7M807.2,1484.9L807.2,1493.4" fill="none" stroke="#000" stroke-width="1.7"/>
<path d="M825.2,1479.7L832.0,1486.4M841.1,1475.1L841.1,1483.6" fill="none" stroke="#000" stroke-width="1.7"/>
<path d="M918.0,1442.7L918.0,1451.2M931.2,1443.4L931.2,1451.9M944.0,1446.5L944.0,1455.0M956.2,1451.6L956.2,1460.1M971.2,1458.6L964.5,1465.3M982.5,1465.4L975.8,1472.1M993.7,1472.4L987.0,1479.1M1005.0,1479.2L998.3,1486.0M1013.1,1484.9L1013.1,1493.4M1028.2,1491.8L1021.5,1498.5M1040.2,1497.4L1033.4,1504.1M1049.0,1501.5L1049.0,1510.0M1061.3,1506.2L1061.3,1514.7M1073.8,1510.6L1073.8,1519.1" fill="none" stroke="#000" stroke-width="1.7"/>
<path d="M888.5,1491.7L888.5,1500.2M901.6,1490.2L901.6,1498.7M914.5,1487.5L914.5,1496.0M927.0,1483.1L927.0,1491.6M935.2,1477.8L941.9,1484.5M945.8,1469.9L952.5,1476.6M955.3,1460.7L962.0,1467.5M963.9,1450.7L970.6,1457.5M971.8,1440.2L978.5,1446.9M979.2,1429.2L985.9,1435.9M986.2,1418.0L992.9,1424.8M992.1,1410.1L1000.6,1410.1M999.6,1395.3L1006.3,1402.0M1006.3,1383.9L1013.1,1390.7M1013.2,1372.7L1020.0,1379.4M1020.6,1361.8L1027.4,1368.5M1029.0,1351.5L1035.7,1358.3M1038.6,1342.6L1045.4,1349.3M1053.7,1335.9L1053.7,1344.4M1066.5,1337.7L1066.5,1346.2M1080.3,1346.7L1073.5,1353.4M1088.7,1356.8L1082.0,1363.6M1096.1,1367.8L1089.3,1374.5M1102.8,1379.1L1096.1,1385.9M1110.1,1394.0L1101.6,1394.0M1115.4,1402.4L1108.6,1409.1M1122.3,1417.4L1113.8,1417.4M1128.4,1429.2L1119.9,1429.2M1133.6,1437.5L1126.9,1444.2M1139.9,1449.1L1133.1,1455.8M1146.4,1460.6L1139.7,1467.3M1153.3,1471.9L1146.5,1478.6M1160.6,1482.9L1153.8,1489.6M1168.4,1493.5L1161.7,1500.2M1177.0,1503.5L1170.3,1510.2M1186.4,1512.7L1179.7,1519.4M1196.8,1520.9L1190.1,1527.6M1208.0,1527.8L1201.3,1534.5M1216.6,1532.5L1216.6,1541.0M1229.1,1536.9L1229.1,1545.4" fill="none" stroke="#000" stroke-width="1.7"/>
<path d="M1008.2,1499.0L1008.2,1507.5M1021.4,1498.4L1021.4,1506.9M1034.5,1496.9L1034.5,1505.4M1044.0,1494.8L1050.7,1501.5M1056.4,1490.2L1063.1,1497.0M1068.0,1484.1L1074.8,1490.8M1078.8,1476.4L1085.5,1483.2M1088.6,1467.6L1095.3,1474.4M1097.6,1458.0L1104.4,1464.8M1106.2,1447.9L1112.9,1454.7M1114.5,1437.7L1121.2,1444.4M1122.8,1427.5L1129.6,1434.2M1131.5,1417.5L1138.2,1424.3M1140.9,1408.3L1147.6,1415.0M1151.6,1400.6L1158.4,1407.4M1167.5,1395.8L1167.5,1404.3M1180.4,1398.0L1180.4,1406.5M1194.9,1405.9L1188.1,1412.7M1204.3,1415.2L1197.5,1421.9M1212.6,1425.4L1205.9,1432.1M1220.3,1436.1L1213.6,1442.9M1227.7,1447.1L1220.9,1453.8M1234.8,1458.2L1228.1,1464.9M1242.9,1472.6L1234.4,1472.6M1249.2,1480.3L1242.5,1487.0M1256.6,1491.2L1249.9,1498.0M1264.4,1501.9L1257.7,1508.6M1272.6,1512.3L1265.8,1519.0M1281.3,1522.1L1274.6,1528.9M1290.7,1531.4L1284.0,1538.1M1300.9,1539.8L1294.2,1546.5M1311.8,1547.2L1305.1,1554.0M1323.4,1553.6L1316.6,1560.3M1335.5,1558.9L1328.7,1565.6" fill="none" stroke="#000" stroke-width="1.7"/>
<path d="M1125.4,1520.1L1125.4,1528.6M1138.6,1519.7L1138.6,1528.2M1148.3,1518.8L1155.0,1525.5M1164.3,1514.2L1164.3,1522.7M1172.7,1509.1L1179.4,1515.9M1183.2,1501.2L1190.0,1508.0M1192.6,1491.9L1199.3,1498.6M1200.9,1481.6L1207.6,1488.4M1208.4,1470.8L1215.1,1477.5M1214.4,1462.9L1222.9,1462.9M1221.7,1448.0L1228.5,1454.8M1227.9,1436.4L1234.7,1443.1M1234.0,1424.6L1240.7,1431.4M1239.9,1412.8L1246.7,1419.6M1245.9,1401.1L1252.7,1407.8M1252.1,1389.4L1258.9,1396.2M1258.7,1378.0L1265.4,1384.7M1265.8,1366.9L1272.6,1373.6M1274.1,1356.6L1280.9,1363.4M1284.5,1348.6L1291.2,1355.3M1304.0,1347.1L1297.3,1353.8M1315.2,1353.9L1308.5,1360.6M1323.7,1363.9L1317.0,1370.6M1330.9,1375.0L1324.1,1381.7M1338.0,1390.0L1329.5,1390.0M1343.8,1401.9L1335.3,1401.9M1348.3,1410.5L1341.6,1417.3M1354.4,1426.0L1345.9,1426.0M1358.6,1434.9L1351.9,1441.6M1364.5,1450.4L1356.0,1450.4M1368.6,1459.3L1361.9,1466.0M1373.6,1471.5L1366.9,1478.2M1378.7,1483.7L1372.0,1490.4M1383.9,1495.8L1377.2,1502.5M1390.2,1511.2L1381.7,1511.2M1395.0,1519.8L1388.3,1526.5M1401.0,1531.5L1394.3,1538.2M1408.4,1546.4L1399.9,1546.4M1414.4,1554.2L1407.7,1561.0M1422.1,1565.0L1415.3,1571.7M1430.5,1575.2L1423.8,1581.9M1439.8,1584.5L1433.1,1591.2M1450.1,1592.8L1443.3,1599.5M1461.3,1599.7L1454.6,1606.5M1469.7,1604.7L1469.7,1613.2" fill="none" stroke="#000" stroke-width="1.7"/>
<path d="M1230.1,1536.8L1230.1,1545.3M1243.3,1536.1L1243.3,1544.6M1256.2,1533.6L1256.2,1542.1M1265.1,1529.5L1271.8,1536.2M1275.9,1522.1L1282.7,1528.8M1285.3,1512.8L1292.1,1519.5M1293.4,1502.3L1300.1,1509.1M1300.4,1491.2L1307.2,1497.9M1306.7,1479.6L1313.4,1486.3M1311.5,1471.0L1320.0,1471.0M1317.6,1455.5L1324.3,1462.3M1321.6,1446.7L1330.1,1446.7M1326.3,1434.3L1334.8,1434.3M1330.8,1421.9L1339.3,1421.9M1336.0,1406.1L1342.7,1412.8M1339.4,1396.9L1347.9,1396.9M1343.6,1384.4L1352.1,1384.4M1348.6,1368.5L1355.4,1375.3M1352.0,1359.4L1360.5,1359.4M1357.2,1343.6L1363.9,1350.3M1360.8,1334.5L1369.3,1334.5M1366.4,1318.8L1373.2,1325.6M1371.6,1306.7L1378.3,1313.4M1377.4,1294.8L1384.2,1301.6M1384.4,1283.7L1391.1,1290.4M1393.8,1274.5L1400.6,1281.3M1413.1,1274.3L1406.4,1281.1M1422.5,1283.5L1415.7,1290.2M1429.3,1294.8L1422.5,1301.5M1434.8,1306.8L1428.1,1313.5M1439.7,1319.0L1433.0,1325.8M1445.1,1334.8L1436.6,1334.8M1449.2,1347.3L1440.7,1347.3M1453.2,1359.9L1444.7,1359.9M1456.1,1369.2L1449.4,1375.9M1460.7,1385.2L1452.2,1385.2M1463.5,1394.5L1456.8,1401.3M1468.0,1410.6L1459.5,1410.6M1471.6,1423.3L1463.1,1423.3M1475.2,1436.0L1466.7,1436.0M1478.7,1448.7L1470.2,1448.7M1482.4,1461.4L1473.9,1461.4M1486.0,1474.1L1477.5,1474.1M1489.8,1486.8L1481.3,1486.8M1493.7,1499.4L1485.2,1499.4M1497.7,1511.9L1489.2,1511.9M1501.9,1524.4L1493.4,1524.4M1506.4,1536.9L1497.9,1536.9M1511.2,1549.2L1502.7,1549.2M1515.4,1558.0L1508.7,1564.7M1521.9,1573.3L1513.4,1573.3M1527.3,1581.5L1520.6,1588.2M1534.4,1592.6L1527.7,1599.4M1542.5,1603.1L1535.8,1609.8M1551.8,1612.5L1545.0,1619.2M1562.3,1620.4L1555.6,1627.1M1570.6,1625.7L1570.6,1634.2M1586.3,1631.1L1579.6,1637.8" fill="none" stroke="#000" stroke-width="1.7"/>
<path d="M1325.0,1556.0L1325.0,1564.5M1338.2,1555.9L1338.2,1564.4M1351.2,1553.8L1351.2,1562.3M1360.3,1550.3L1367.0,1557.0M1371.7,1543.7L1378.4,1550.4M1381.9,1535.3L1388.6,1542.1M1390.8,1525.6L1397.5,1532.3M1398.7,1515.0L1405.4,1521.7M1405.8,1503.9L1412.5,1510.6M1411.5,1495.8L1420.0,1495.8M1418.6,1480.8L1425.3,1487.5M1424.5,1469.0L1431.2,1475.7M1430.3,1457.2L1437.0,1463.9M1435.2,1448.6L1443.7,1448.6M1441.9,1433.4L1448.6,1440.2M1447.9,1421.7L1454.6,1428.4M1454.3,1410.1L1461.0,1416.8M1461.3,1399.0L1468.1,1405.7M1469.8,1388.9L1476.5,1395.6M1481.1,1382.4L1487.8,1389.1M1500.5,1384.8L1493.7,1391.6M1510.1,1393.7L1503.4,1400.5M1517.7,1404.5L1511.0,1411.3M1525.1,1419.4L1516.6,1419.4M1530.0,1427.9L1523.3,1434.6M1536.2,1443.3L1527.7,1443.3M1540.5,1452.1L1533.8,1458.8M1545.6,1464.3L1538.8,1471.0M1551.5,1479.8L1543.0,1479.8M1555.7,1488.7L1549.0,1495.4M1561.6,1504.2L1553.1,1504.2M1565.7,1513.1L1559.0,1519.8M1571.6,1528.7L1563.1,1528.7M1576.9,1540.8L1568.4,1540.8M1581.6,1549.3L1574.9,1556.1M1587.8,1561.0L1581.1,1567.7" fill="none" stroke="#000" stroke-width="1.7"/>
<path d="M221.3,2093.5 L224.3,2093.7 L227.3,2092.0 L230.3,2091.2 L233.3,2088.5 L236.3,2090.8 L239.3,2089.6 L242.3,2083.2 L245.3,2081.2 L248.3,2081.2 L251.3,2084.1 L254.3,2083.3 L257.3,2079.7 L260.3,2075.9 L263.3,2073.1 L266.3,2073.7 L269.3,2073.9 L272.3,2069.7 L275.3,2065.6 L278.3,2064.9 L281.3,2060.2 L284.3,2057.5 L287.3,2056.5 L290.3,2050.8 L293.3,2050.2 L296.3,2052.8 L299.3,2049.6 L302.3,2045.2 L305.3,2047.0 L308.3,2048.7 L311.3,2047.4 L314.3,2048.9 L317.3,2046.7 L320.3,2046.3 L323.3,2047.7 L326.3,2047.7 L329.3,2049.8 L332.3,2052.0 L335.3,2056.5 L338.3,2059.7 L341.3,2061.0 L344.3,2064.0 L347.3,2068.6 L350.3,2071.7 L353.3,2074.6 L356.3,2080.2 L359.3,2084.6 L362.3,2089.0 L365.3,2093.4 L368.3,2101.2 L371.3,2108.6 L374.3,2110.5 L377.3,2112.5 L380.3,2119.2 L383.3,2123.5 L386.3,2123.5 L389.3,2126.8 L392.3,2130.5 L395.3,2135.1 L398.3,2137.2 L401.3,2140.7 L404.3,2141.4 L407.3,2141.1 L410.3,2142.6 L413.3,2145.8 L416.3,2148.0 L419.3,2146.1 L422.3,2148.9 L425.3,2151.6 L428.3,2148.9 L431.3,2146.8 L434.3,2146.5 L437.3,2147.4 L440.3,2149.3 L443.3,2148.4 L446.3,2147.3 L449.3,2146.9 L452.3,2146.4 L455.3,2147.4 L458.3,2150.4 L461.3,2146.0 L464.3,2142.8 L467.3,2144.4 L470.3,2144.6 L473.3,2142.9 L476.3,2140.9 L479.3,2139.7 L482.3,2139.8 L485.3,2140.3 L488.3,2137.6 L491.3,2136.5 L494.3,2134.8 L497.3,2130.1 L500.3,2129.6 L503.3,2130.5 L506.3,2127.2 L509.3,2126.0 L512.3,2125.8 L515.3,2120.1 L518.3,2114.4 L521.3,2115.8 L524.3,2116.5 L527.3,2110.1 L530.3,2103.1 L533.3,2100.2 L536.3,2098.3 L539.3,2093.7 L542.3,2091.4 L545.3,2088.7 L548.3,2083.6 L551.3,2083.9 L554.3,2081.5 L557.3,2076.8 L560.3,2075.7 L563.3,2073.9 L566.3,2069.3 L569.3,2065.1 L572.3,2061.3 L575.3,2061.1 L578.3,2060.6 L581.3,2053.4 L584.3,2049.8 L587.3,2050.1 L590.3,2048.5 L593.3,2048.1 L596.3,2047.5 L599.3,2041.9 L602.3,2038.0 L605.3,2035.4 L608.3,2034.7 L611.3,2036.0 L614.3,2039.1 L617.3,2038.6 L620.3,2030.9 L623.3,2029.8 L626.3,2033.6 L629.3,2033.4 L632.3,2032.7 L635.3,2035.3 L638.3,2038.6 L641.3,2040.6 L644.3,2040.6 L647.3,2044.3 L650.3,2047.2 L653.3,2047.8 L656.3,2049.3 L659.3,2051.9 L662.3,2058.2 L665.3,2060.4 L668.3,2062.8 L671.3,2070.3 L674.3,2073.7 L677.3,2077.1 L680.3,2080.3 L683.3,2086.4 L686.3,2094.4 L689.3,2097.4 L692.3,2097.9 L695.3,2100.8 L698.3,2110.2 L701.3,2119.7 L704.3,2124.0 L707.3,2128.7 L710.3,2132.8 L713.3,2136.1 L716.3,2142.7 L719.3,2149.4 L722.3,2152.9 L725.3,2159.5 L728.3,2169.7 L731.3,2172.3 L734.3,2173.9 L737.3,2182.0 L740.3,2188.7 L743.3,2190.0 L746.3,2197.7 L749.3,2207.0 L752.3,2210.1 L755.3,2218.2 L758.3,2223.9 L761.3,2224.1 L764.3,2228.4 L767.3,2232.2 L770.3,2234.9 L773.3,2240.9 L776.3,2244.8 L779.3,2246.9 L782.3,2253.4 L785.3,2258.3 L788.3,2259.6 L791.3,2261.5 L794.3,2263.2 L797.3,2266.6 L800.3,2267.6 L803.3,2269.9 L806.3,2270.0 L809.3,2268.0 L812.3,2268.6 L815.3,2269.6 L818.3,2273.6 L821.3,2277.4 L824.3,2276.4 L827.3,2274.9 L830.3,2276.1 L833.3,2275.6 L836.3,2274.8 L839.3,2276.5 L842.3,2276.1 L845.3,2276.5 L848.3,2279.5 L851.3,2278.5 L854.3,2277.0 L857.3,2275.9 L860.3,2280.4 L863.3,2280.0 L866.3,2278.4 L869.3,2279.9 L872.3,2275.0 L875.3,2270.4 L878.3,2270.7 L881.3,2273.6 L884.3,2269.0 L887.3,2264.2 L890.3,2265.6 L893.3,2264.8 L896.3,2264.5 L899.3,2261.3 L902.3,2257.3 L905.3,2254.5 L908.3,2255.3 L911.3,2254.6 L914.3,2246.4 L917.3,2246.0 L920.3,2247.7 L923.3,2249.3 L926.3,2247.3 L929.3,2242.5 L932.3,2242.0 L935.3,2242.5 L938.3,2239.2 L941.3,2236.0 L944.3,2234.4 L947.3,2229.7 L950.3,2226.3 L953.3,2224.2 L956.3,2220.1 L959.3,2219.2 L962.3,2215.8 L965.3,2212.9 L968.3,2213.5 L971.3,2208.3 L974.3,2202.1 L977.3,2198.1 L980.3,2195.9 L983.3,2193.1 L986.3,2188.3 L989.3,2184.1 L992.3,2178.0 L995.3,2171.9 L998.3,2165.3 L1001.3,2160.9 L1004.3,2158.3 L1007.3,2151.0 L1010.3,2147.1 L1013.3,2143.1 L1016.3,2131.3 L1019.3,2124.7 L1022.3,2121.3 L1025.3,2117.5 L1028.3,2118.5 L1031.3,2111.1 L1034.3,2102.7 L1037.3,2098.8 L1040.3,2095.3 L1043.3,2093.1 L1046.3,2091.4 L1049.3,2086.2 L1052.3,2084.4 L1055.3,2082.7 L1058.3,2079.4 L1061.3,2081.7 L1064.3,2081.7 L1067.3,2078.1 L1070.3,2075.7 L1073.3,2076.5 L1076.3,2077.2 L1079.3,2079.0 L1082.3,2076.1 L1085.3,2074.2 L1088.3,2076.6 L1091.3,2076.7 L1094.3,2076.6 L1097.3,2078.6 L1100.3,2079.3 L1103.3,2079.1 L1106.3,2080.3 L1109.3,2083.0 L1112.3,2080.4 L1115.3,2080.8 L1118.3,2084.1 L1121.3,2082.4 L1124.3,2082.3 L1127.3,2081.4 L1130.3,2084.2 L1133.3,2087.7 L1136.3,2090.7 L1139.3,2091.0 L1142.3,2094.0 L1145.3,2098.9 L1148.3,2098.8 L1151.3,2099.4 L1154.3,2100.2 L1157.3,2100.6 L1160.3,2102.0 L1163.3,2104.7 L1166.3,2106.5 L1169.3,2106.0 L1172.3,2108.0 L1175.3,2111.1 L1178.3,2114.0 L1181.3,2120.5 L1184.3,2123.5 L1187.3,2122.5 L1190.3,2121.2 L1193.3,2121.4 L1196.3,2123.4 L1199.3,2128.9 L1202.3,2132.6 L1205.3,2133.8 L1208.3,2136.1 L1211.3,2138.0 L1214.3,2142.8 L1217.3,2143.2 L1220.3,2142.1 L1223.3,2143.5 L1226.3,2146.8 L1229.3,2147.3 L1232.3,2144.7 L1235.3,2144.3 L1238.3,2143.9 L1241.3,2146.7 L1244.3,2153.0 L1247.3,2150.7 L1250.3,2147.8 L1253.3,2149.3 L1256.3,2145.8 L1259.3,2145.1 L1262.3,2146.5 L1265.3,2145.5 L1268.3,2148.1 L1271.3,2144.9 L1274.3,2140.3 L1277.3,2140.6 L1280.3,2135.3 L1283.3,2130.9 L1286.3,2128.9 L1289.3,2124.2 L1292.3,2118.0 L1295.3,2112.8 L1298.3,2102.3 L1301.3,2097.4 L1304.3,2098.8 L1307.3,2093.2 L1310.3,2086.4 L1313.3,2077.4 L1316.3,2070.4 L1319.3,2066.2 L1322.3,2060.5 L1325.3,2058.2 L1328.3,2053.5 L1331.3,2047.9 L1334.3,2041.8 L1337.3,2036.0 L1340.3,2031.9 L1343.3,2024.0 L1346.3,2016.0 L1349.3,2013.5 L1352.3,2006.5 L1355.3,1995.2 L1358.3,1988.9 L1361.3,1985.5 L1364.3,1983.5 L1367.3,1976.1 L1370.3,1965.9 L1373.3,1959.1 L1376.3,1956.3 L1379.3,1949.5 L1382.3,1942.4 L1385.3,1937.7 L1388.3,1928.1 L1391.3,1921.8 L1394.3,1919.4 L1397.3,1917.6 L1400.3,1911.7 L1403.3,1907.7 L1406.3,1904.4 L1409.3,1895.2 L1412.3,1889.2 L1415.3,1884.2 L1418.3,1878.4 L1421.3,1872.9 L1424.3,1869.8 L1427.3,1871.9 L1430.3,1874.3 L1433.3,1872.0 L1436.3,1871.2 L1439.3,1870.8 L1442.3,1871.0 L1445.3,1874.9 L1448.3,1877.5 L1451.3,1880.8 L1454.3,1888.2 L1457.3,1894.6 L1460.3,1898.2 L1463.3,1905.0 L1466.3,1911.5 L1469.3,1917.1 L1472.0,1922.5 L1473.9,1927.3 L1475.4,1935.8 L1477.1,1944.9 L1479.3,1953.3 L1482.3,1963.1 L1485.3,1976.1 L1488.3,1989.1 L1491.3,2001.8 L1494.3,2010.4 L1497.3,2020.5 L1500.3,2035.7 L1504.2,2050.0 L1509.0,2063.9 L1513.9,2077.0 L1518.6,2093.4 L1523.6,2109.2 L1528.3,2121.2 L1532.2,2138.1 L1535.4,2156.6 L1538.5,2168.5 L1541.6,2182.7 L1544.6,2196.4 L1547.7,2210.1 L1550.8,2223.5 L1553.9,2232.5 L1556.9,2243.7 L1560.0,2254.7 L1563.0,2265.9 L1566.1,2276.8 L1569.1,2285.3 L1572.1,2292.0 L1575.2,2293.5 L1578.2,2301.2 L1581.2,2310.5 L1584.2,2317.2 L1587.3,2328.4 L1590.3,2334.8 L1593.3,2338.5 L1596.3,2343.5 L1599.3,2349.1 L1602.3,2353.3 L1605.3,2356.9 L1608.3,2360.1 L1611.1,2366.3 L1613.7,2370.8 L1616.2,2373.2 L1618.6,2375.4 L1620.9,2376.2 L1623.3,2378.4 L1625.7,2380.9 L1628.3,2384.2 L1630.8,2385.4 L1633.3,2384.4 L1635.9,2384.1 L1638.4,2388.8 L1641.0,2390.6 L1643.7,2387.9 L1646.4,2390.3 L1649.3,2391.9 L1652.3,2390.0 L1655.3,2387.0 L1658.3,2389.4 L1661.3,2390.8 L1664.3,2388.3 L1667.3,2387.6 L1670.3,2384.8 L1673.3,2383.1 L1676.3,2386.1 L1679.3,2389.0 L1682.3,2388.2 L1685.3,2385.9 L1688.3,2384.3 L1691.3,2385.9 L1694.3,2386.2 L1697.3,2388.5" fill="none" stroke="#808080" stroke-width="9.5" stroke-linejoin="round" stroke-linecap="butt"/>
<path d="M228.3,2090.6L228.3,2099.6M241.3,2092.8L241.3,2101.8M258.0,2095.4L250.9,2102.5M271.0,2097.6L263.9,2104.8M283.7,2101.1L276.6,2108.2M292.6,2104.5L292.6,2113.5M304.6,2110.1L304.6,2119.1M319.7,2117.4L312.6,2124.5M331.4,2123.4L324.3,2130.5M343.2,2129.4L336.1,2136.5M351.8,2133.7L351.8,2142.7M364.1,2138.4L364.1,2147.4M376.7,2142.4L376.7,2151.4M393.0,2146.8L385.8,2153.9M406.0,2148.9L398.9,2156.1M415.6,2149.3L415.6,2158.3" fill="none" stroke="#000" stroke-width="1.6"/>
<path d="M420.3,2149.6L420.3,2158.6M427.3,2150.1L427.3,2159.1M434.3,2150.4L434.3,2159.4M441.3,2150.7L441.3,2159.7M448.3,2150.9L448.3,2159.9M455.3,2151.1L455.3,2160.1M462.3,2151.4L462.3,2160.4M469.2,2151.8L469.2,2160.8M476.2,2152.4L476.2,2161.4M483.2,2153.1L483.2,2162.1M490.1,2153.9L490.1,2162.9M497.1,2154.8L497.1,2163.8M504.0,2155.8L504.0,2164.8M510.9,2156.9L510.9,2165.9M517.8,2158.1L517.8,2167.1M524.7,2159.5L524.7,2168.5M531.5,2161.0L531.5,2170.0M538.3,2162.6L538.3,2171.6M548.6,2165.5L541.5,2172.6M555.3,2167.5L548.2,2174.6M558.4,2168.8L558.4,2177.8M568.5,2172.2L561.4,2179.3M574.9,2174.9L567.8,2182.1M581.2,2178.0L574.1,2185.1M583.9,2180.3L583.9,2189.3M593.6,2184.6L586.5,2191.7M599.8,2187.9L592.6,2195.0M606.0,2191.2L598.8,2198.3M612.1,2194.5L605.0,2201.6M614.7,2196.9L614.7,2205.9M624.4,2201.2L617.3,2208.3M630.5,2204.7L623.4,2211.8M636.5,2208.3L629.4,2215.4M642.4,2211.9L635.3,2219.1M648.3,2215.7L641.2,2222.8M654.2,2219.6L647.1,2226.7M660.0,2223.5L652.9,2230.6" fill="none" stroke="#000" stroke-width="1.8"/>
<path d="M663.9,2226.1L656.7,2233.2M667.6,2228.7L660.5,2235.8M671.4,2231.4L664.2,2238.5M675.0,2234.2L667.9,2241.3M678.7,2237.0L671.6,2244.1M682.4,2239.7L675.3,2246.8M682.7,2241.3L682.7,2250.3M690.2,2244.6L683.0,2251.7M694.2,2246.9L687.0,2254.0M694.6,2248.2L694.6,2257.2M702.2,2251.3L695.1,2258.4M706.3,2253.4L699.2,2260.5M706.9,2254.5L706.9,2263.5M711.1,2256.4L711.1,2265.4M718.9,2259.1L711.7,2266.3M719.6,2260.0L719.6,2269.0M723.8,2261.7L723.8,2270.7M728.1,2263.4L728.1,2272.4M736.0,2265.9L728.9,2273.0M736.8,2266.5L736.8,2275.5M744.7,2268.8L737.6,2275.9M745.6,2269.1L745.6,2278.1M750.0,2270.2L750.0,2279.2M754.5,2271.3L754.5,2280.3M759.0,2272.2L759.0,2281.2M767.1,2274.1L760.0,2281.2M771.6,2274.9L764.5,2282.0M772.6,2274.7L772.6,2283.7M780.7,2276.3L773.6,2283.4M781.7,2275.9L781.7,2284.9M786.3,2276.3L786.3,2285.3M790.9,2276.7L790.9,2285.7M795.5,2277.1L795.5,2286.1M800.1,2277.5L800.1,2286.5M804.6,2277.8L804.6,2286.8M809.2,2278.0L809.2,2287.0M813.8,2278.2L813.8,2287.2M818.4,2278.3L818.4,2287.3M823.0,2278.4L823.0,2287.4M827.6,2278.5L827.6,2287.5M832.2,2278.6L832.2,2287.6M836.8,2278.6L836.8,2287.6M841.4,2278.7L841.4,2287.7M846.0,2278.8L846.0,2287.8M850.6,2278.8L850.6,2287.8M855.2,2278.9L855.2,2287.9M859.8,2278.9L859.8,2287.9M864.4,2279.0L864.4,2288.0M869.0,2279.0L869.0,2288.0M873.6,2279.1L873.6,2288.1M878.2,2279.1L878.2,2288.1M882.8,2279.2L882.8,2288.2M887.4,2279.3L887.4,2288.3M892.0,2279.4L892.0,2288.4M896.6,2279.5L896.6,2288.5M901.2,2279.5L901.2,2288.5M905.8,2279.6L905.8,2288.6M910.4,2279.7L910.4,2288.7M915.0,2279.8L915.0,2288.8M919.6,2279.9L919.6,2288.9M924.2,2279.9L924.2,2288.9M928.8,2280.0L928.8,2289.0M933.4,2280.1L933.4,2289.1M938.0,2280.2L938.0,2289.2M942.6,2280.4L942.6,2289.4M947.2,2280.5L947.2,2289.5M951.8,2280.6L951.8,2289.6M956.4,2280.8L956.4,2289.8M961.0,2281.0L961.0,2290.0M965.6,2281.1L965.6,2290.1M970.2,2281.3L970.2,2290.3M974.8,2281.6L974.8,2290.6M979.4,2281.8L979.4,2290.8M984.0,2282.0L984.0,2291.0M988.6,2282.3L988.6,2291.3M993.2,2282.6L993.2,2291.6M997.8,2282.8L997.8,2291.8M1002.3,2283.1L1002.3,2292.1M1006.9,2283.4L1006.9,2292.4M1011.5,2283.7L1011.5,2292.7M1016.1,2284.1L1016.1,2293.1M1020.7,2284.4L1020.7,2293.4M1025.3,2284.9L1025.3,2293.9M1029.9,2285.3L1029.9,2294.3M1034.4,2285.8L1034.4,2294.8M1039.0,2286.3L1039.0,2295.3M1043.6,2286.8L1043.6,2295.8M1048.1,2287.4L1048.1,2296.4M1052.7,2287.9L1052.7,2296.9M1057.3,2288.6L1057.3,2297.6M1061.8,2289.2L1061.8,2298.2M1066.4,2289.9L1066.4,2298.9M1070.9,2290.6L1070.9,2299.6M1075.5,2291.3L1075.5,2300.3M1083.6,2293.0L1076.4,2300.1M1088.1,2293.7L1081.0,2300.8M1092.6,2294.4L1085.5,2301.6M1097.2,2295.2L1090.1,2302.3M1098.2,2294.9L1098.2,2303.9M1102.7,2295.6L1102.7,2304.6M1110.8,2297.2L1103.7,2304.3M1111.8,2297.0L1111.8,2306.0M1116.4,2297.6L1116.4,2306.6M1120.9,2298.3L1120.9,2307.3M1125.5,2299.0L1125.5,2308.0M1130.0,2299.6L1130.0,2308.6M1134.6,2300.3L1134.6,2309.3M1139.1,2301.0L1139.1,2310.0M1147.2,2302.7L1140.1,2309.8M1148.2,2302.4L1148.2,2311.4M1152.8,2303.2L1152.8,2312.2M1157.3,2303.9L1157.3,2312.9M1161.8,2304.7L1161.8,2313.7M1169.9,2306.5L1162.8,2313.6M1170.9,2306.5L1170.9,2315.5M1175.4,2307.3L1175.4,2316.3M1183.5,2309.1L1176.3,2316.3M1184.4,2309.1L1184.4,2318.1M1188.9,2309.9L1188.9,2318.9M1193.5,2310.7L1193.5,2319.7M1198.0,2311.4L1198.0,2320.4M1202.6,2312.1L1202.6,2321.1M1207.1,2312.7L1207.1,2321.7M1211.7,2313.2L1211.7,2322.2M1216.3,2313.6L1216.3,2322.6M1220.8,2314.1L1220.8,2323.1M1225.4,2314.4L1225.4,2323.4M1230.0,2314.8L1230.0,2323.8M1234.6,2315.2L1234.6,2324.2M1239.2,2315.6L1239.2,2324.6M1243.8,2315.9L1243.8,2324.9M1248.4,2316.4L1248.4,2325.4M1252.9,2316.8L1252.9,2325.8M1257.5,2317.4L1257.5,2326.4M1262.1,2317.9L1262.1,2326.9M1266.6,2318.6L1266.6,2327.6M1271.2,2319.3L1271.2,2328.3M1275.7,2320.1L1275.7,2329.1M1280.2,2320.9L1280.2,2329.9M1284.7,2321.7L1284.7,2330.7M1289.3,2322.6L1289.3,2331.6M1293.8,2323.5L1293.8,2332.5M1298.3,2324.4L1298.3,2333.4M1302.8,2325.3L1302.8,2334.3M1307.3,2326.2L1307.3,2335.2M1315.4,2328.0L1308.3,2335.1M1316.3,2327.9L1316.3,2336.9M1324.4,2329.7L1317.3,2336.8M1325.4,2329.6L1325.4,2338.6M1333.5,2331.4L1326.3,2338.5M1334.4,2331.3L1334.4,2340.3M1338.9,2332.2L1338.9,2341.2M1347.0,2334.0L1339.9,2341.1M1348.0,2334.0L1348.0,2343.0M1356.0,2335.8L1348.9,2343.0M1357.0,2335.8L1357.0,2344.8M1361.5,2336.8L1361.5,2345.8M1369.5,2338.7L1362.4,2345.9M1370.4,2338.8L1370.4,2347.8M1374.9,2339.9L1374.9,2348.9M1383.0,2341.9L1375.8,2349.1M1383.8,2342.1L1383.8,2351.1M1391.9,2344.2L1384.7,2351.4M1392.7,2344.5L1392.7,2353.5M1397.2,2345.7L1397.2,2354.7M1401.6,2347.0L1401.6,2356.0M1406.0,2348.3L1406.0,2357.3M1410.4,2349.6L1410.4,2358.6M1418.3,2352.0L1411.2,2359.1M1419.2,2352.5L1419.2,2361.5M1423.5,2353.9L1423.5,2362.9M1427.9,2355.2L1427.9,2364.2M1432.3,2356.6L1432.3,2365.6M1440.3,2358.9L1433.2,2366.0M1441.1,2359.3L1441.1,2368.3M1445.5,2360.7L1445.5,2369.7M1453.4,2363.1L1446.3,2370.2M1454.2,2363.6L1454.2,2372.6M1458.6,2365.1L1458.6,2374.1M1466.5,2367.6L1459.4,2374.7M1467.3,2368.1L1467.3,2377.1M1475.3,2370.3L1468.1,2377.5M1476.1,2370.6L1476.1,2379.6M1480.6,2371.8L1480.6,2380.8M1485.0,2372.9L1485.0,2381.9M1489.5,2374.0L1489.5,2383.0M1494.0,2375.0L1494.0,2384.0M1498.5,2376.1L1498.5,2385.1M1503.0,2377.0L1503.0,2386.0M1507.5,2378.0L1507.5,2387.0M1512.0,2378.9L1512.0,2387.9M1516.5,2379.8L1516.5,2388.8M1521.0,2380.7L1521.0,2389.7M1529.1,2382.5L1521.9,2389.7M1530.0,2382.5L1530.0,2391.5M1534.5,2383.4L1534.5,2392.4M1539.1,2384.2L1539.1,2393.2M1543.6,2384.9L1543.6,2393.9M1548.2,2385.5L1548.2,2394.5M1552.7,2386.0L1552.7,2395.0M1557.3,2386.5L1557.3,2395.5M1561.9,2386.9L1561.9,2395.9M1566.5,2387.3L1566.5,2396.3M1571.1,2387.7L1571.1,2396.7M1575.6,2388.0L1575.6,2397.0M1580.2,2388.3L1580.2,2397.3M1584.8,2388.6L1584.8,2397.6M1589.4,2388.9L1589.4,2397.9M1594.0,2389.1L1594.0,2398.1M1598.6,2389.3L1598.6,2398.3M1603.2,2389.4L1603.2,2398.4M1607.8,2389.6L1607.8,2398.6M1612.4,2389.7L1612.4,2398.7M1617.0,2389.9L1617.0,2398.9M1621.6,2390.0L1621.6,2399.0M1626.2,2390.1L1626.2,2399.1M1630.8,2390.3L1630.8,2399.3M1635.4,2390.4L1635.4,2399.4M1640.0,2390.5L1640.0,2399.5M1644.6,2390.6L1644.6,2399.6M1649.2,2390.7L1649.2,2399.7M1653.8,2390.8L1653.8,2399.8M1658.4,2390.9L1658.4,2399.9M1663.0,2391.0L1663.0,2400.0M1667.6,2391.1L1667.6,2400.1M1672.2,2391.1L1672.2,2400.1M1676.8,2391.2L1676.8,2400.2M1681.4,2391.3L1681.4,2400.3M1686.0,2391.3L1686.0,2400.3M1690.6,2391.4L1690.6,2400.4M1695.2,2391.5L1695.2,2400.5" fill="none" stroke="#000" stroke-width="2.0"/>
<path d="M449.1,2148.4L449.1,2156.9" fill="none" stroke="#000" stroke-width="1.7"/>
<path d="M535.0,2097.7L541.8,2104.5M545.0,2089.0L551.7,2095.8M555.0,2080.5L561.8,2087.2M565.3,2072.2L572.1,2079.0M576.4,2065.1L583.2,2071.9M592.4,2060.5L592.4,2069.0M608.7,2063.2L601.9,2069.9M619.9,2070.1L613.1,2076.8M629.1,2079.5L622.3,2086.2M636.9,2090.1L630.2,2096.8M643.9,2101.3L637.2,2108.0M650.4,2112.8L643.7,2119.5M657.4,2127.8L648.9,2127.8M662.5,2136.3L655.8,2143.0M668.3,2148.1L661.5,2154.9M674.8,2163.4L666.3,2163.4M679.6,2172.0L672.9,2178.7M685.5,2183.8L678.8,2190.5M691.8,2195.4L685.1,2202.1M698.4,2206.8L691.7,2213.5M705.5,2217.9L698.8,2224.6M713.2,2228.6L706.5,2235.4M721.6,2238.8L714.9,2245.6M730.8,2248.3L724.0,2255.1M740.8,2256.9L734.1,2263.6M751.9,2264.0L745.2,2270.7M760.5,2268.6L760.5,2277.1M776.4,2273.6L769.7,2280.3" fill="none" stroke="#000" stroke-width="1.7"/>
<path d="M542.4,2160.8L542.4,2169.3M555.5,2162.4L555.5,2170.9M568.6,2163.3L568.6,2171.8M581.8,2163.8L581.8,2172.3M594.9,2162.4L594.9,2170.9M607.5,2158.6L607.5,2167.1M616.1,2153.9L622.9,2160.6M627.6,2147.4L634.4,2154.2M639.1,2140.8L645.8,2147.5M650.8,2134.8L657.5,2141.5M666.6,2129.7L666.6,2138.2M679.8,2129.7L679.8,2138.2M696.0,2133.6L689.2,2140.3M707.4,2140.1L700.7,2146.8M717.4,2148.7L710.7,2155.4M726.3,2158.5L719.5,2165.2" fill="none" stroke="#000" stroke-width="1.7"/>
<path d="M894.5,2276.4L894.5,2284.9" fill="none" stroke="#000" stroke-width="1.7"/>
<path d="M1032.0,2097.8L1038.7,2104.6M1040.4,2087.7L1047.2,2094.4M1051.6,2080.9L1058.3,2087.6M1067.8,2081.3L1067.8,2089.8M1081.8,2089.9L1075.0,2096.7M1090.0,2100.3L1083.3,2107.0M1097.9,2114.8L1089.4,2114.8M1103.3,2123.0L1096.5,2129.8M1109.1,2134.9L1102.3,2141.6M1114.5,2146.9L1107.8,2153.6M1120.7,2162.4L1112.2,2162.4M1125.1,2171.1L1118.4,2177.9M1131.2,2186.6L1122.7,2186.6M1135.5,2195.4L1128.8,2202.1M1140.9,2207.4L1134.2,2214.2M1146.5,2219.4L1139.7,2226.1M1153.1,2234.6L1144.6,2234.6M1158.4,2242.9L1151.7,2249.7M1165.8,2257.8L1157.3,2257.8M1172.0,2265.6L1165.3,2272.3M1179.7,2276.2L1173.0,2283.0M1188.3,2286.3L1181.6,2293.0M1198.0,2295.2L1191.3,2302.0M1208.8,2302.8L1202.1,2309.5M1217.3,2307.6L1217.3,2316.1M1229.9,2311.5L1229.9,2320.0" fill="none" stroke="#000" stroke-width="1.7"/>
<path d="M1030.4,2282.9L1030.4,2291.4M1043.6,2281.9L1043.6,2290.4M1056.6,2279.6L1056.6,2288.1M1069.1,2275.5L1069.1,2284.0M1077.4,2270.2L1084.1,2276.9M1087.9,2262.2L1094.6,2269.0M1097.2,2252.9L1104.0,2259.7M1105.7,2242.8L1112.4,2249.5M1113.4,2232.1L1120.2,2238.8M1120.7,2221.1L1127.4,2227.8M1127.6,2209.9L1134.4,2216.6M1134.4,2198.5L1141.1,2205.3M1141.1,2187.2L1147.9,2193.9M1148.0,2175.9L1154.8,2182.7M1155.3,2164.9L1162.0,2171.6M1163.3,2154.4L1170.0,2161.1M1172.5,2144.9L1179.2,2151.7M1187.1,2137.3L1187.1,2145.8M1200.0,2136.0L1200.0,2144.5M1214.7,2143.3L1208.0,2150.0M1223.5,2153.1L1216.8,2159.8M1231.1,2163.9L1224.4,2170.6M1238.2,2175.1L1231.4,2181.8M1244.7,2186.5L1238.0,2193.3M1250.9,2198.2L1244.2,2204.9M1257.0,2209.9L1250.3,2216.6M1263.9,2225.0L1255.4,2225.0M1269.1,2233.4L1262.4,2240.1M1275.2,2245.0L1268.5,2251.8M1281.6,2256.6L1274.9,2263.3M1288.3,2268.0L1281.6,2274.7M1295.4,2279.1L1288.7,2285.8M1303.1,2289.8L1296.4,2296.6M1311.5,2300.0L1304.8,2306.7M1320.8,2309.3L1314.1,2316.1M1331.1,2317.6L1324.3,2324.4M1338.8,2323.8L1338.8,2332.3M1350.7,2329.7L1350.7,2338.2M1362.9,2334.6L1362.9,2343.1" fill="none" stroke="#000" stroke-width="1.7"/>
<path d="M1191.9,2306.6L1191.9,2315.1M1205.0,2305.1L1205.0,2313.6M1214.1,2301.7L1220.8,2308.4M1225.4,2294.9L1232.1,2301.6M1235.2,2286.1L1242.0,2292.9M1243.8,2276.1L1250.6,2282.8M1251.4,2265.3L1258.1,2272.0M1257.3,2257.3L1265.8,2257.3M1264.4,2242.3L1271.1,2249.0M1270.1,2230.4L1276.8,2237.1M1275.4,2218.3L1282.1,2225.1M1280.5,2206.2L1287.2,2212.9M1285.3,2193.9L1292.1,2200.6M1289.2,2184.9L1297.7,2184.9M1294.7,2169.2L1301.4,2175.9M1298.3,2160.2L1306.8,2160.2M1303.8,2144.4L1310.5,2151.1M1308.4,2132.0L1315.1,2138.8M1312.2,2123.1L1320.7,2123.1M1317.2,2110.9L1325.7,2110.9M1323.4,2095.4L1330.1,2102.1M1328.4,2087.0L1336.9,2087.0M1336.2,2072.3L1342.9,2079.1M1345.1,2062.7L1351.8,2069.4M1360.8,2059.0L1360.8,2067.5M1374.7,2067.5L1368.0,2074.2M1383.1,2081.7L1374.6,2081.7M1389.1,2093.5L1380.6,2093.5M1393.5,2102.2L1386.7,2109.0M1398.2,2114.5L1391.5,2121.3M1403.6,2130.3L1395.1,2130.3M1407.8,2142.8L1399.3,2142.8M1411.9,2155.4L1403.4,2155.4M1415.8,2168.0L1407.3,2168.0M1419.7,2180.6L1411.2,2180.6M1423.6,2193.2L1415.1,2193.2M1427.6,2205.8L1419.1,2205.8M1431.5,2218.4L1423.0,2218.4M1435.5,2231.0L1427.0,2231.0M1439.7,2243.5L1431.2,2243.5M1443.9,2256.0L1435.4,2256.0M1448.3,2268.4L1439.8,2268.4M1453.0,2280.8L1444.5,2280.8M1457.0,2289.7L1450.2,2296.4M1462.1,2301.9L1455.4,2308.6M1468.6,2317.2L1460.1,2317.2M1473.8,2325.5L1467.1,2332.2M1480.7,2336.8L1474.0,2343.5M1488.5,2347.4L1481.7,2354.2M1497.3,2357.2L1490.5,2364.0M1507.3,2365.9L1500.5,2372.6M1515.0,2372.2L1515.0,2380.7M1526.9,2377.8L1526.9,2386.3M1539.3,2382.2L1539.3,2390.7" fill="none" stroke="#000" stroke-width="1.7"/>
<path d="M1288.7,2318.9L1288.7,2327.4M1301.8,2317.8L1301.8,2326.3M1314.4,2314.1L1314.4,2322.6M1322.5,2308.3L1329.2,2315.1M1332.2,2299.4L1338.9,2306.1M1340.3,2289.1L1347.1,2295.8M1347.3,2277.9L1354.0,2284.6M1352.5,2269.5L1361.0,2269.5M1357.9,2257.5L1366.4,2257.5M1363.7,2241.8L1370.4,2248.6M1367.3,2232.8L1375.8,2232.8M1371.5,2220.3L1380.0,2220.3M1375.5,2207.7L1384.0,2207.7M1379.3,2195.1L1387.8,2195.1M1382.9,2182.4L1391.4,2182.4M1386.3,2169.6L1394.8,2169.6M1389.7,2156.9L1398.2,2156.9M1393.9,2140.7L1400.6,2147.4M1396.3,2131.3L1404.8,2131.3M1399.5,2118.5L1408.0,2118.5M1402.7,2105.7L1411.2,2105.7M1405.9,2092.9L1414.4,2092.9M1410.0,2076.7L1416.8,2083.4M1412.4,2067.3L1420.9,2067.3M1416.6,2051.2L1423.4,2057.9M1419.2,2041.8L1427.7,2041.8M1422.8,2029.1L1431.3,2029.1M1427.5,2013.1L1434.2,2019.8M1430.7,2003.9L1439.2,2003.9M1436.1,1988.1L1442.8,1994.9M1440.5,1979.4L1449.0,1979.4M1448.2,1964.8L1454.9,1971.5M1462.3,1957.0L1462.3,1965.5M1477.0,1963.8L1470.3,1970.5M1485.3,1978.1L1476.8,1978.1M1490.9,1990.0L1482.4,1990.0M1494.7,1999.0L1487.9,2005.7M1499.7,2014.9L1491.2,2014.9M1503.5,2027.5L1495.0,2027.5M1507.1,2040.2L1498.6,2040.2M1510.5,2053.0L1502.0,2053.0M1513.6,2065.8L1505.1,2065.8M1516.7,2078.7L1508.2,2078.7M1519.7,2091.5L1511.2,2091.5M1521.6,2101.0L1514.9,2107.8M1525.3,2117.3L1516.8,2117.3M1528.0,2130.2L1519.5,2130.2M1530.7,2143.1L1522.2,2143.1M1533.4,2156.1L1524.9,2156.1M1536.1,2169.0L1527.6,2169.0" fill="none" stroke="#000" stroke-width="1.7"/>
<line x1="1508.6" y1="193.5" x2="1508.6" y2="948" stroke="#000" stroke-width="4.8" stroke-dasharray="8.14 8.14" shape-rendering="crispEdges"/>
<line x1="1487.4" y1="1163" x2="1483.5" y2="2472" stroke="#000" stroke-width="4.8" stroke-dasharray="8.14 8.14" shape-rendering="crispEdges"/>
<path d="M222.5,465.2 L224.5,465.6 L226.5,466.0 L228.5,466.5 L230.5,466.9 L232.5,467.4 L234.5,467.8 L236.5,468.3 L238.5,468.8 L240.5,469.2 L242.5,469.7 L244.5,470.2 L246.5,470.7 L248.5,471.2 L250.5,471.7 L252.5,472.2 L254.5,472.8 L256.5,473.3 L258.5,473.9 L260.5,474.4 L262.5,475.0 L264.5,475.6 L266.5,476.2 L268.5,476.8 L270.5,477.6 L272.5,478.3 L274.5,478.6 L276.5,478.2 L278.5,477.3 L280.5,476.4 L282.5,475.6 L284.5,474.8 L286.5,474.1 L288.5,473.4 L290.5,472.9 L292.5,472.5 L294.5,472.1 L296.5,471.8 L298.5,471.6 L300.5,471.6 L302.5,471.6 L304.5,471.7 L306.5,471.8 L308.5,472.0 L310.5,472.0 L312.5,472.1 L314.5,472.1 L316.5,472.1 L318.5,472.1 L320.5,472.1 L322.5,472.1 L324.5,472.2 L326.5,472.2 L328.5,472.3 L330.5,472.4 L332.5,472.4 L334.5,472.5 L336.5,472.6 L338.5,472.6 L340.5,472.7 L342.5,472.8 L344.5,472.9 L346.5,473.0 L348.5,473.1 L350.5,473.1 L352.5,473.2 L354.5,473.3 L356.5,473.4 L358.5,473.5 L360.5,473.6 L362.5,473.7 L364.5,473.8 L366.5,473.8 L368.5,473.9 L370.5,474.0 L372.5,474.1 L374.5,474.2 L376.5,474.2 L378.5,474.3 L380.5,474.4 L382.5,474.4 L384.5,474.5 L386.5,474.5 L388.5,474.6 L390.5,474.6 L392.5,474.6 L394.5,474.7 L396.5,474.7 L398.5,474.7 L400.5,474.7 L402.5,474.7 L404.5,474.7 L406.5,474.7 L408.5,474.6 L410.5,474.6 L412.5,474.5 L414.5,474.5 L416.5,474.4 L418.5,474.3 L420.5,474.2 L422.5,474.1 L424.5,473.9 L426.5,473.8 L428.5,473.6 L430.5,473.4 L432.5,473.2 L434.5,473.0 L436.5,472.8 L438.5,472.5 L440.5,472.2 L442.5,471.9 L444.5,471.6 L446.5,471.2 L448.5,470.9 L450.5,470.5 L452.5,470.1 L454.5,469.6 L456.5,469.1 L458.5,468.6 L460.5,468.1 L462.5,467.5 L464.5,466.9 L466.5,466.3 L468.5,465.7 L470.5,465.0 L472.5,464.3 L474.5,463.5 L476.5,462.8 L478.5,462.0 L480.5,461.1 L482.5,460.2 L484.5,459.3 L486.5,458.3 L488.5,457.4 L490.5,456.3 L492.5,455.3 L494.5,454.1 L496.5,453.0 L498.5,451.8 L500.5,450.6 L502.5,449.3 L504.5,448.0 L506.5,446.6 L508.5,445.2 L510.5,443.8 L512.5,442.3 L514.5,440.7 L516.5,439.1 L518.5,437.5 L520.5,435.8 L522.5,434.1 L524.5,432.3 L526.5,430.5 L528.5,428.6 L530.5,426.6 L532.5,424.7 L534.5,422.6 L536.5,420.5 L538.5,418.4 L540.5,416.2 L542.5,414.0 L544.5,411.7 L546.5,409.5 L548.5,407.2 L550.5,405.0 L552.5,402.8 L554.5,400.7 L556.5,398.6 L558.5,396.5 L560.5,394.5 L562.5,392.6 L564.5,390.8 L566.5,389.1 L568.5,387.4 L570.5,385.9 L572.5,384.4 L574.5,383.0 L576.5,381.7 L578.5,380.5 L580.5,379.3 L582.5,378.3 L584.5,377.3 L586.5,376.4 L588.5,375.5 L590.5,374.7 L592.5,374.0 L594.5,373.4 L596.5,372.8 L598.5,372.3 L600.5,371.8 L602.5,371.4 L604.5,371.1 L606.5,370.8 L608.5,370.6 L610.5,370.4 L612.5,370.3 L614.5,370.2 L616.5,370.2 L618.5,370.2 L620.5,370.2 L622.5,370.2 L624.5,370.2 L626.5,370.1 L628.5,370.0 L630.5,369.8 L632.5,369.4 L634.5,369.0 L636.5,368.4 L638.5,367.7 L640.5,366.8 L642.5,365.6 L644.5,364.4 L646.5,363.1 L648.5,361.8 L650.5,360.7 L652.5,359.6 L654.5,358.5 L656.5,357.5 L658.5,356.4 L660.5,355.3 L662.5,354.2 L664.5,353.0 L666.5,351.8 L668.5,350.6 L670.5,349.4 L672.5,348.2 L674.5,347.0 L676.5,345.8 L678.5,344.6 L680.5,343.5 L682.5,342.4 L684.5,341.3 L686.5,340.3 L688.5,339.4 L690.5,338.5 L692.5,337.7 L694.5,337.0 L696.5,336.4 L698.5,336.0 L700.5,335.6 L702.5,335.3 L704.5,335.2 L706.5,335.2 L708.5,335.4 L710.5,335.7 L712.5,336.2 L714.5,336.8 L716.5,337.6 L718.5,338.6 L720.5,339.8 L722.5,341.2 L724.5,342.7 L726.5,344.5 L728.5,346.4 L730.5,348.5 L732.5,350.9 L734.5,353.4 L736.5,356.2 L738.5,359.1 L740.5,362.2 L742.5,365.4 L744.5,368.8 L746.5,372.3 L748.5,375.8 L750.5,379.5 L752.5,383.1 L754.5,386.8 L756.5,390.5 L758.5,394.2 L760.5,397.9 L762.5,401.7 L764.5,405.4 L766.5,409.2 L768.5,413.0 L770.5,416.7 L772.5,420.5 L774.5,424.3 L776.5,428.0 L778.5,431.8 L780.5,435.5 L782.5,439.2 L784.5,443.0 L786.5,446.7 L788.5,450.3 L790.5,454.0 L792.5,457.6 L794.5,461.2 L796.5,464.8 L798.5,468.3 L800.5,471.8 L802.5,475.3 L804.5,478.7 L806.5,482.0 L808.5,485.3 L810.5,488.5 L812.5,491.7 L814.5,494.8 L816.5,497.8 L818.5,500.8 L820.5,503.6 L822.5,506.4 L824.5,509.1 L826.5,511.7 L828.5,514.3 L830.5,516.7 L832.5,519.0 L834.5,521.2 L836.5,523.3 L838.5,525.3 L840.5,527.2 L842.5,528.9 L844.5,530.6 L846.5,532.1 L848.5,533.6 L850.5,534.9 L852.5,536.1 L854.5,537.3 L856.5,538.3 L858.5,539.2 L860.5,540.1 L862.5,540.9 L864.5,541.6 L866.5,542.2 L868.5,542.7 L870.5,543.1 L872.5,543.5 L874.5,543.8 L876.5,544.1 L878.5,544.3 L880.5,544.4 L882.5,544.5 L884.5,544.5 L886.5,544.4 L888.5,544.3 L890.5,544.2 L892.5,544.0 L894.5,543.7 L896.5,543.4 L898.5,543.1 L900.5,542.7 L902.5,542.3 L904.5,541.8 L906.5,541.3 L908.5,540.7 L910.5,540.0 L912.5,539.4 L914.5,538.6 L916.5,537.8 L918.5,537.0 L920.5,536.1 L922.5,535.2 L924.5,534.2 L926.5,533.1 L928.5,532.0 L930.5,530.9 L932.5,529.7 L934.5,528.4 L936.5,527.1 L938.5,525.8 L940.5,524.4 L942.5,522.9 L944.5,521.4 L946.5,519.8 L948.5,518.2 L950.5,516.5 L952.5,514.8 L954.5,513.0 L956.5,511.2 L958.5,509.3 L960.5,507.3 L962.5,505.4 L964.5,503.4 L966.5,501.4 L968.5,499.4 L970.5,497.4 L972.5,495.4 L974.5,493.5 L976.5,491.5 L978.5,489.6 L980.5,487.7 L982.5,485.9 L984.5,484.1 L986.5,482.4 L988.5,480.8 L990.5,479.2 L992.5,477.7 L994.5,476.3 L996.5,475.0 L998.5,473.9 L1000.5,472.8 L1002.5,471.9 L1004.5,471.1 L1006.5,470.4 L1008.5,469.8 L1010.5,469.4 L1012.5,469.1 L1014.5,468.9 L1016.5,468.9 L1018.5,468.9 L1020.5,469.0 L1022.5,469.2 L1024.5,469.5 L1026.5,469.9 L1028.5,470.4 L1030.5,470.9 L1032.5,471.5 L1034.5,472.1 L1036.5,472.8 L1038.5,473.6 L1040.5,474.4 L1042.5,475.2 L1044.5,476.1 L1046.5,476.9 L1048.5,477.9 L1050.5,478.8 L1052.5,479.7 L1054.5,480.6 L1056.5,481.6 L1058.5,482.5 L1060.5,483.4 L1062.5,484.3 L1064.5,485.2 L1066.5,486.0 L1068.5,486.8 L1070.5,487.6 L1072.5,488.3 L1074.5,489.0 L1076.5,489.6 L1078.5,490.2 L1080.5,490.7 L1082.5,491.1 L1084.5,491.4 L1086.5,491.7 L1088.5,491.8 L1090.5,491.9 L1092.5,491.9 L1094.5,491.7 L1096.5,491.5 L1098.5,491.1 L1100.5,490.6 L1102.5,490.0 L1104.5,489.3 L1106.5,488.4 L1108.5,487.4 L1110.5,486.2 L1112.5,484.9 L1114.5,483.4 L1116.5,481.7 L1118.5,479.9 L1120.5,478.0 L1122.5,475.8 L1124.5,473.6 L1126.5,471.2 L1128.5,468.7 L1130.5,466.1 L1132.5,463.4 L1134.5,460.7 L1136.5,457.8 L1138.5,455.0 L1140.5,452.0 L1142.5,449.0 L1144.5,446.0 L1146.5,443.0 L1148.5,440.0 L1150.5,436.9 L1152.5,434.0 L1154.5,431.0 L1156.5,428.1 L1158.5,425.3 L1160.5,422.6 L1162.5,420.0 L1164.5,417.6 L1166.5,415.3 L1168.5,413.2 L1170.5,411.2 L1172.5,409.5 L1174.5,408.1 L1176.5,406.8 L1178.5,405.9 L1180.5,405.1 L1182.5,404.7 L1184.5,404.5 L1186.5,404.5 L1188.5,404.7 L1190.5,405.2 L1192.5,405.9 L1194.5,406.7 L1196.5,407.8 L1198.5,409.0 L1200.5,410.5 L1202.5,412.0 L1204.5,413.8 L1206.5,415.7 L1208.5,417.7 L1210.5,419.8 L1212.5,422.1 L1214.5,424.5 L1216.5,427.0 L1218.5,429.6 L1220.5,432.2 L1222.5,435.0 L1224.5,437.8 L1226.5,440.7 L1228.5,443.6 L1230.5,446.6 L1232.5,449.5 L1234.5,452.5 L1236.5,455.4 L1238.5,458.4 L1240.5,461.2 L1242.5,464.0 L1244.5,466.7 L1246.5,469.2 L1248.5,471.7 L1250.5,473.9 L1252.5,476.1 L1254.5,478.0 L1256.5,479.7 L1258.5,481.2 L1260.5,482.4 L1262.5,483.4 L1264.5,484.2 L1266.5,484.7 L1268.5,485.0 L1270.5,485.1 L1272.5,484.9 L1274.5,484.4 L1276.5,483.8 L1278.5,482.9 L1280.5,481.8 L1282.5,480.4 L1284.5,478.9 L1286.5,477.1 L1288.5,475.1 L1290.5,473.0 L1292.5,470.8 L1294.5,468.4 L1296.5,465.9 L1298.5,463.4 L1300.5,460.8 L1302.5,458.1 L1304.5,455.2 L1306.5,452.0 L1308.5,448.4 L1310.5,444.4 L1312.5,439.9 L1314.5,435.2 L1316.5,430.2 L1318.5,424.9 L1320.5,419.5 L1322.5,413.9 L1324.5,408.2 L1326.5,402.5 L1328.5,396.8 L1330.5,391.2 L1332.5,385.7 L1334.5,380.3 L1336.5,375.2 L1338.5,370.3 L1340.5,365.7 L1342.5,361.4 L1344.5,357.5 L1346.5,353.9 L1348.5,350.5 L1350.5,347.5 L1352.5,344.7 L1354.5,342.2 L1356.5,340.0 L1358.5,338.0 L1360.5,336.3 L1362.5,334.7 L1364.5,333.4 L1366.5,332.3 L1368.5,331.4 L1370.5,330.7 L1372.5,330.2 L1374.5,329.8 L1376.5,329.6 L1378.5,329.6 L1380.5,329.7 L1382.5,330.0 L1384.5,330.3 L1386.5,330.9 L1388.5,331.5 L1390.5,332.2 L1392.5,333.1 L1394.5,334.0 L1396.5,335.1 L1398.5,336.2 L1400.5,337.4 L1402.5,338.6 L1404.5,340.0 L1406.5,341.3 L1408.5,342.7 L1410.5,344.0 L1412.5,345.3 L1414.5,346.4 L1416.5,347.5 L1418.5,348.3 L1420.5,349.0 L1422.5,349.5 L1424.5,349.7 L1426.5,349.6 L1428.5,349.3 L1430.5,348.6 L1432.5,347.7 L1434.5,346.5 L1436.5,344.9 L1438.5,343.1 L1440.5,341.0 L1442.5,338.7 L1444.5,336.3 L1446.5,333.8 L1448.5,331.3 L1450.5,328.7 L1452.5,326.1 L1454.5,323.6 L1456.5,320.9 L1458.5,318.0 L1460.5,315.0 L1462.5,311.7 L1464.5,308.0 L1466.5,304.0 L1468.5,299.5 L1470.5,294.8 L1472.5,290.0 L1474.5,285.3 L1476.5,281.0 L1478.5,277.0 L1480.5,273.3 L1482.5,270.1 L1484.5,267.1 L1486.5,264.6 L1488.5,262.3 L1490.5,260.5 L1492.5,258.9 L1494.5,257.8 L1496.5,257.0 L1498.5,256.7 L1500.5,256.8 L1502.5,257.3 L1504.5,258.3 L1506.5,259.7 L1508.5,261.6 L1510.5,264.0 L1512.5,266.9 L1514.5,270.3 L1516.5,274.2 L1518.5,278.7 L1520.5,283.7 L1522.5,289.2 L1524.5,295.3 L1526.5,301.9 L1528.5,309.2 L1530.5,317.0 L1532.5,325.3 L1534.5,334.2 L1536.5,343.5 L1538.5,353.2 L1540.5,363.2 L1542.5,373.4 L1544.5,383.8 L1546.5,394.3 L1548.5,404.9 L1550.5,415.5 L1552.5,426.3 L1554.5,437.5 L1556.5,449.1 L1558.5,461.2 L1560.5,473.4 L1562.5,485.7 L1564.5,497.8 L1566.5,509.7 L1568.5,521.3 L1570.5,532.8 L1572.5,544.2 L1574.5,555.6 L1576.5,567.1 L1578.5,578.5 L1580.5,589.6 L1582.5,600.2 L1584.5,610.4 L1586.5,620.1 L1588.5,629.4 L1590.5,638.4 L1592.5,647.2 L1594.5,655.9 L1596.5,664.5 L1598.5,673.2 L1600.5,681.9 L1602.5,690.5 L1604.5,698.9 L1606.5,707.1 L1608.5,714.9 L1610.5,722.2 L1612.5,729.0 L1614.5,735.2 L1616.5,740.7 L1618.5,745.7 L1620.5,750.4 L1622.5,755.1 L1624.5,759.7 L1626.5,764.4 L1628.5,768.9 L1630.5,773.4 L1632.5,777.7 L1634.5,781.9 L1636.5,785.9 L1638.5,789.6 L1640.5,793.1 L1642.5,796.5 L1644.5,799.6 L1646.5,802.5 L1648.5,805.2 L1650.5,807.8 L1652.5,810.1 L1654.5,812.3 L1656.5,814.4 L1658.5,816.3 L1660.5,818.1 L1662.5,819.7 L1664.5,821.2 L1666.5,822.6 L1668.5,823.9 L1670.5,825.1 L1672.5,826.1 L1674.5,827.1 L1676.5,828.0 L1678.5,828.8 L1680.5,829.6 L1682.5,830.3 L1684.5,830.9 L1686.5,831.4 L1688.5,831.9 L1690.5,832.4 L1692.5,832.8 L1694.5,833.2 L1696.5,833.5 L1698.5,833.9" fill="none" stroke="#000" stroke-width="9.1" stroke-linejoin="round" stroke-linecap="butt"/>
<path d="M221.3,1315.3 L223.3,1315.2 L225.3,1315.1 L227.3,1314.9 L229.3,1314.7 L231.3,1314.4 L233.3,1314.1 L235.3,1313.7 L237.3,1313.3 L239.3,1312.8 L241.3,1312.3 L243.3,1311.7 L245.3,1311.1 L247.3,1310.4 L249.3,1309.8 L251.3,1309.1 L253.3,1308.3 L255.3,1307.6 L257.3,1306.8 L259.3,1306.0 L261.3,1305.2 L263.3,1304.4 L265.3,1303.5 L267.3,1302.7 L269.3,1301.8 L271.3,1300.9 L273.3,1300.1 L275.3,1299.2 L277.3,1298.3 L279.3,1297.5 L281.3,1296.6 L283.3,1295.8 L285.3,1294.9 L287.3,1294.1 L289.3,1293.4 L291.3,1292.6 L293.3,1292.0 L295.3,1291.3 L297.3,1290.8 L299.3,1290.2 L301.3,1289.8 L303.3,1289.5 L305.3,1289.2 L307.3,1289.0 L309.3,1289.0 L311.3,1289.0 L313.3,1289.2 L315.3,1289.5 L317.3,1289.9 L319.3,1290.4 L321.3,1291.1 L323.3,1292.0 L325.3,1292.9 L327.3,1294.1 L329.3,1295.3 L331.3,1296.7 L333.3,1298.1 L335.3,1299.7 L337.3,1301.3 L339.3,1303.0 L341.3,1304.8 L343.3,1306.7 L345.3,1308.6 L347.3,1310.6 L349.3,1312.5 L351.3,1314.6 L353.3,1316.6 L355.3,1318.6 L357.3,1320.7 L359.3,1322.7 L361.3,1324.7 L363.3,1326.7 L365.3,1328.6 L367.3,1330.5 L369.3,1332.4 L371.3,1334.2 L373.3,1335.9 L375.3,1337.5 L377.3,1339.1 L379.3,1340.5 L381.3,1341.9 L383.3,1343.1 L385.3,1344.3 L387.3,1345.4 L389.3,1346.4 L391.3,1347.4 L393.3,1348.2 L395.3,1349.0 L397.3,1349.7 L399.3,1350.4 L401.3,1350.9 L403.3,1351.4 L405.3,1351.9 L407.3,1352.3 L409.3,1352.6 L411.3,1352.9 L413.3,1353.1 L415.3,1353.2 L417.3,1353.4 L419.3,1353.4 L421.3,1353.5 L423.3,1353.4 L425.3,1353.4 L427.3,1353.3 L429.3,1353.2 L431.3,1353.0 L433.3,1352.8 L435.3,1352.6 L437.3,1352.4 L439.3,1352.1 L441.3,1351.8 L443.3,1351.5 L445.3,1351.2 L447.3,1350.8 L449.3,1350.4 L451.3,1349.9 L453.3,1349.5 L455.3,1349.0 L457.3,1348.4 L459.3,1347.9 L461.3,1347.3 L463.3,1346.7 L465.3,1346.0 L467.3,1345.4 L469.3,1344.7 L471.3,1343.9 L473.3,1343.2 L475.3,1342.4 L477.3,1341.5 L479.3,1340.7 L481.3,1339.8 L483.3,1338.9 L485.3,1337.9 L487.3,1336.9 L489.3,1335.9 L491.3,1334.9 L493.3,1333.8 L495.3,1332.7 L497.3,1331.6 L499.3,1330.4 L501.3,1329.2 L503.3,1328.0 L505.3,1326.7 L507.3,1325.5 L509.3,1324.2 L511.3,1322.9 L513.3,1321.6 L515.3,1320.3 L517.3,1318.9 L519.3,1317.6 L521.3,1316.3 L523.3,1315.0 L525.3,1313.7 L527.3,1312.4 L529.3,1311.2 L531.3,1309.9 L533.3,1308.7 L535.3,1307.5 L537.3,1306.3 L539.3,1305.2 L541.3,1304.1 L543.3,1303.0 L545.3,1302.0 L547.3,1301.1 L549.3,1300.1 L551.3,1299.3 L553.3,1298.5 L555.3,1297.7 L557.3,1296.9 L559.3,1296.2 L561.3,1295.6 L563.3,1295.0 L565.3,1294.4 L567.3,1293.9 L569.3,1293.4 L571.3,1292.9 L573.3,1292.5 L575.3,1292.1 L577.3,1291.7 L579.3,1291.4 L581.3,1291.1 L583.3,1290.8 L585.3,1290.6 L587.3,1290.4 L589.3,1290.2 L591.3,1290.0 L593.3,1289.8 L595.3,1289.7 L597.3,1289.6 L599.3,1289.5 L601.3,1289.4 L603.3,1289.3 L605.3,1289.3 L607.3,1289.3 L609.3,1289.3 L611.3,1289.3 L613.3,1289.4 L615.3,1289.4 L617.3,1289.5 L619.3,1289.7 L621.3,1289.8 L623.3,1290.0 L625.3,1290.2 L627.3,1290.5 L629.3,1290.8 L631.3,1291.1 L633.3,1291.4 L635.3,1291.8 L637.3,1292.2 L639.3,1292.7 L641.3,1293.2 L643.3,1293.7 L645.3,1294.3 L647.3,1294.9 L649.3,1295.6 L651.3,1296.3 L653.3,1297.1 L655.3,1298.1 L657.3,1299.1 L659.3,1300.3 L661.3,1301.7 L663.3,1303.3 L665.3,1305.1 L667.3,1307.1 L669.3,1309.2 L671.3,1311.5 L673.3,1314.0 L675.3,1316.5 L677.3,1319.2 L679.3,1322.0 L681.3,1324.8 L683.3,1327.7 L685.3,1330.7 L687.3,1333.6 L689.3,1336.7 L691.3,1339.7 L693.3,1342.8 L695.3,1345.9 L697.3,1349.1 L699.3,1352.2 L701.3,1355.4 L703.3,1358.7 L705.3,1361.9 L707.3,1365.1 L709.3,1368.4 L711.3,1371.7 L713.3,1375.0 L715.3,1378.3 L717.3,1381.6 L719.3,1384.9 L721.3,1388.2 L723.3,1391.4 L725.3,1394.7 L727.3,1398.0 L729.3,1401.2 L731.3,1404.5 L733.3,1407.7 L735.3,1410.9 L737.3,1414.0 L739.3,1417.1 L741.3,1420.2 L743.3,1423.2 L745.3,1426.2 L747.3,1429.2 L749.3,1432.0 L751.3,1434.9 L753.3,1437.7 L755.3,1440.4 L757.3,1443.0 L759.3,1445.6 L761.3,1448.1 L763.3,1450.5 L765.3,1452.9 L767.3,1455.2 L769.3,1457.3 L771.3,1459.4 L773.3,1461.5 L775.3,1463.4 L777.3,1465.3 L779.3,1467.0 L781.3,1468.7 L783.3,1470.3 L785.3,1471.9 L787.3,1473.4 L789.3,1474.7 L791.3,1476.1 L793.3,1477.3 L795.3,1478.5 L797.3,1479.5 L799.3,1480.6 L801.3,1481.5 L803.3,1482.4 L805.3,1483.2 L807.3,1483.9 L809.3,1484.6 L811.3,1485.2 L813.3,1485.7 L815.3,1486.1 L817.3,1486.5 L819.3,1486.8 L821.3,1487.1 L823.3,1487.3 L825.3,1487.4 L827.3,1487.5 L829.3,1487.5 L831.3,1487.4 L833.3,1487.3 L835.3,1487.1 L837.3,1486.9 L839.3,1486.6 L841.3,1486.2 L843.3,1485.8 L845.3,1485.3 L847.3,1484.8 L849.3,1484.2 L851.3,1483.6 L853.3,1482.9 L855.3,1482.2 L857.3,1481.4 L859.3,1480.5 L861.3,1479.6 L863.3,1478.6 L865.3,1477.6 L867.3,1476.6 L869.3,1475.5 L871.3,1474.3 L873.3,1473.1 L875.3,1471.9 L877.3,1470.6 L879.3,1469.3 L881.3,1468.0 L883.3,1466.6 L885.3,1465.2 L887.3,1463.8 L889.3,1462.4 L891.3,1460.9 L893.3,1459.4 L895.3,1457.9 L897.3,1456.4 L899.3,1454.9 L901.3,1453.3 L903.3,1451.8 L905.3,1450.2 L907.3,1448.7 L909.3,1447.1 L911.3,1445.6 L913.3,1444.0 L915.3,1442.5 L917.3,1440.9 L919.3,1439.4 L921.3,1437.9 L923.3,1436.4 L925.3,1434.9 L927.3,1433.5 L929.3,1432.0 L931.3,1430.6 L933.3,1429.2 L935.3,1427.9 L937.3,1426.5 L939.3,1425.2 L941.3,1423.9 L943.3,1422.6 L945.3,1421.2 L947.3,1419.9 L949.3,1418.6 L951.3,1417.3 L953.3,1416.0 L955.3,1414.7 L957.3,1413.3 L959.3,1412.0 L961.3,1410.6 L963.3,1409.2 L965.3,1407.7 L967.3,1406.3 L969.3,1404.8 L971.3,1403.2 L973.3,1401.6 L975.3,1400.0 L977.3,1398.3 L979.3,1396.5 L981.3,1394.7 L983.3,1392.9 L985.3,1391.0 L987.3,1389.0 L989.3,1387.0 L991.3,1385.0 L993.3,1382.9 L995.3,1380.7 L997.3,1378.6 L999.3,1376.4 L1001.3,1374.2 L1003.3,1372.0 L1005.3,1369.7 L1007.3,1367.5 L1009.3,1365.2 L1011.3,1362.9 L1013.3,1360.7 L1015.3,1358.4 L1017.3,1356.1 L1019.3,1353.9 L1021.3,1351.6 L1023.3,1349.4 L1025.3,1347.2 L1027.3,1345.0 L1029.3,1342.9 L1031.3,1340.7 L1033.3,1338.6 L1035.3,1336.6 L1037.3,1334.6 L1039.3,1332.7 L1041.3,1330.9 L1043.3,1329.1 L1045.3,1327.5 L1047.3,1325.9 L1049.3,1324.4 L1051.3,1323.1 L1053.3,1321.9 L1055.3,1320.8 L1057.3,1319.8 L1059.3,1319.1 L1061.3,1318.4 L1063.3,1318.0 L1065.3,1317.7 L1067.3,1317.6 L1069.3,1317.6 L1071.3,1317.8 L1073.3,1318.1 L1075.3,1318.6 L1077.3,1319.1 L1079.3,1319.8 L1081.3,1320.5 L1083.3,1321.3 L1085.3,1322.2 L1087.3,1323.1 L1089.3,1324.1 L1091.3,1325.1 L1093.3,1326.2 L1095.3,1327.3 L1097.3,1328.4 L1099.3,1329.5 L1101.3,1330.6 L1103.3,1331.7 L1105.3,1332.8 L1107.3,1333.9 L1109.3,1334.9 L1111.3,1335.9 L1113.3,1336.9 L1115.3,1337.7 L1117.3,1338.6 L1119.3,1339.4 L1121.3,1340.1 L1123.3,1340.8 L1125.3,1341.5 L1127.3,1342.1 L1129.3,1342.6 L1131.3,1343.2 L1133.3,1343.7 L1135.3,1344.1 L1137.3,1344.6 L1139.3,1345.0 L1141.3,1345.4 L1143.3,1345.8 L1145.3,1346.1 L1147.3,1346.5 L1149.3,1346.8 L1151.3,1347.1 L1153.3,1347.4 L1155.3,1347.7 L1157.3,1348.0 L1159.3,1348.3 L1161.3,1348.6 L1163.3,1348.8 L1165.3,1349.1 L1167.3,1349.3 L1169.3,1349.5 L1171.3,1349.7 L1173.3,1349.9 L1175.3,1350.1 L1177.3,1350.3 L1179.3,1350.4 L1181.3,1350.5 L1183.3,1350.6 L1185.3,1350.7 L1187.3,1350.7 L1189.3,1350.8 L1191.3,1350.8 L1193.3,1350.7 L1195.3,1350.7 L1197.3,1350.6 L1199.3,1350.5 L1201.3,1350.3 L1203.3,1350.2 L1205.3,1350.0 L1207.3,1349.7 L1209.3,1349.4 L1211.3,1349.1 L1213.3,1348.8 L1215.3,1348.4 L1217.3,1347.9 L1219.3,1347.4 L1221.3,1346.9 L1223.3,1346.2 L1225.3,1345.5 L1227.3,1344.7 L1229.3,1343.8 L1231.3,1342.9 L1233.3,1341.8 L1235.3,1340.6 L1237.3,1339.3 L1239.3,1337.9 L1241.3,1336.4 L1243.3,1334.7 L1245.3,1332.9 L1247.3,1330.9 L1249.3,1328.8 L1251.3,1326.6 L1253.3,1324.3 L1255.3,1321.8 L1257.3,1319.4 L1259.3,1316.8 L1261.3,1314.3 L1263.3,1311.7 L1265.3,1309.2 L1267.3,1306.6 L1269.3,1304.2 L1271.3,1301.7 L1273.3,1299.3 L1275.3,1296.9 L1277.3,1294.6 L1279.3,1292.4 L1281.3,1290.2 L1283.3,1288.0 L1285.3,1285.9 L1287.3,1283.9 L1289.3,1282.0 L1291.3,1280.1 L1293.3,1278.3 L1295.3,1276.6 L1297.3,1275.0 L1299.3,1273.4 L1301.3,1271.9 L1303.3,1270.5 L1305.3,1269.1 L1307.3,1267.7 L1309.3,1266.4 L1311.3,1265.1 L1313.3,1263.8 L1315.3,1262.4 L1317.3,1261.1 L1319.3,1259.7 L1321.3,1258.4 L1323.3,1256.9 L1325.3,1255.4 L1327.3,1253.9 L1329.3,1252.3 L1331.3,1250.7 L1333.3,1248.9 L1335.3,1247.1 L1337.3,1245.2 L1339.3,1243.2 L1341.3,1241.1 L1343.3,1238.8 L1345.3,1236.5 L1347.3,1234.0 L1349.3,1231.5 L1351.3,1228.8 L1353.3,1226.1 L1355.3,1223.3 L1357.3,1220.5 L1359.3,1217.6 L1361.3,1214.7 L1363.3,1211.7 L1365.3,1208.8 L1367.3,1205.9 L1369.3,1203.0 L1371.3,1200.1 L1373.3,1197.2 L1375.3,1194.4 L1377.3,1191.7 L1379.3,1189.0 L1381.3,1186.4 L1383.3,1183.8 L1385.3,1181.4 L1387.3,1179.0 L1389.3,1176.8 L1391.3,1174.6 L1393.3,1172.6 L1395.3,1170.6 L1397.3,1168.8 L1399.3,1167.2 L1401.3,1165.6 L1403.3,1164.2 L1405.3,1163.0 L1407.3,1161.9 L1409.3,1161.0 L1411.3,1160.3 L1413.3,1159.7 L1415.3,1159.3 L1417.3,1159.1 L1419.3,1159.1 L1421.3,1159.3 L1423.3,1159.7 L1425.3,1160.3 L1427.3,1161.1 L1429.3,1162.1 L1431.3,1163.2 L1433.3,1164.6 L1435.3,1166.1 L1437.3,1167.8 L1439.3,1169.7 L1441.3,1171.7 L1443.3,1174.0 L1445.3,1176.4 L1447.3,1178.9 L1449.3,1181.6 L1451.3,1184.5 L1453.3,1187.5 L1455.3,1190.7 L1457.3,1194.1 L1459.3,1197.5 L1461.3,1201.2 L1463.3,1204.9 L1465.3,1208.8 L1467.3,1212.8 L1469.3,1217.0 L1471.3,1221.3 L1473.3,1225.7 L1475.3,1230.2 L1477.3,1234.9 L1479.3,1239.7 L1481.3,1244.6 L1483.3,1249.6 L1485.3,1254.7 L1487.3,1259.9 L1489.3,1265.2 L1491.3,1270.6 L1493.3,1276.2 L1495.3,1282.0 L1497.3,1287.8 L1499.3,1293.9 L1501.3,1300.1 L1503.3,1306.5 L1505.3,1313.0 L1507.3,1319.7 L1509.3,1326.5 L1511.3,1333.3 L1513.3,1340.0 L1515.3,1346.6 L1517.3,1353.0 L1519.3,1359.4 L1521.3,1365.7 L1523.3,1372.1 L1525.3,1378.5 L1527.3,1384.9 L1529.3,1391.5 L1531.3,1398.2 L1533.3,1405.1 L1535.3,1412.1 L1537.3,1419.1 L1539.3,1426.1 L1541.3,1433.2 L1543.3,1440.3 L1545.3,1447.3 L1547.3,1454.3 L1549.3,1461.1 L1551.3,1467.9 L1553.3,1474.5 L1555.3,1481.1 L1557.3,1487.6 L1559.3,1494.1 L1561.3,1500.4 L1563.3,1506.6 L1565.3,1512.7 L1567.3,1518.6 L1569.3,1524.3 L1571.3,1529.8 L1573.3,1535.0 L1575.3,1540.0 L1577.3,1544.8 L1579.3,1549.3 L1581.3,1553.7 L1583.3,1557.8 L1585.3,1561.8 L1587.3,1565.6 L1589.3,1569.2 L1591.3,1572.7 L1593.3,1576.1 L1595.3,1579.3 L1597.3,1582.4 L1599.3,1585.4 L1601.3,1588.3 L1603.3,1591.0 L1605.3,1593.7 L1607.3,1596.2 L1609.3,1598.6 L1611.3,1601.0 L1613.3,1603.2 L1615.3,1605.3 L1617.3,1607.4 L1619.3,1609.3 L1621.3,1611.1 L1623.3,1612.9 L1625.3,1614.6 L1627.3,1616.2 L1629.3,1617.7 L1631.3,1619.1 L1633.3,1620.5 L1635.3,1621.8 L1637.3,1623.0 L1639.3,1624.1 L1641.3,1625.2 L1643.3,1626.2 L1645.3,1627.1 L1647.3,1628.0 L1649.3,1628.8 L1651.3,1629.6 L1653.3,1630.3 L1655.3,1631.0 L1657.3,1631.6 L1659.3,1632.2 L1661.3,1632.7 L1663.3,1633.2 L1665.3,1633.7 L1667.3,1634.1 L1669.3,1634.5 L1671.3,1634.8 L1673.3,1635.2 L1675.3,1635.5 L1677.3,1635.7 L1679.3,1636.0 L1681.3,1636.2 L1683.3,1636.4 L1685.3,1636.7 L1687.3,1636.8 L1689.3,1637.0 L1691.3,1637.2 L1693.3,1637.4 L1695.3,1637.5 L1697.3,1637.7" fill="none" stroke="#000" stroke-width="9.1" stroke-linejoin="round" stroke-linecap="butt"/>
<path d="M221.3,2091.6 L223.3,2091.4 L225.3,2091.0 L227.3,2090.6 L229.3,2090.1 L231.3,2089.6 L233.3,2089.0 L235.3,2088.3 L237.3,2087.6 L239.3,2086.9 L241.3,2086.1 L243.3,2085.2 L245.3,2084.3 L247.3,2083.3 L249.3,2082.3 L251.3,2081.3 L253.3,2080.2 L255.3,2079.1 L257.3,2077.9 L259.3,2076.7 L261.3,2075.4 L263.3,2074.1 L265.3,2072.8 L267.3,2071.5 L269.3,2070.1 L271.3,2068.7 L273.3,2067.2 L275.3,2065.8 L277.3,2064.3 L279.3,2062.8 L281.3,2061.3 L283.3,2059.8 L285.3,2058.3 L287.3,2056.9 L289.3,2055.5 L291.3,2054.1 L293.3,2052.8 L295.3,2051.6 L297.3,2050.5 L299.3,2049.4 L301.3,2048.4 L303.3,2047.6 L305.3,2046.8 L307.3,2046.2 L309.3,2045.7 L311.3,2045.4 L313.3,2045.2 L315.3,2045.2 L317.3,2045.3 L319.3,2045.6 L321.3,2046.2 L323.3,2046.8 L325.3,2047.7 L327.3,2048.8 L329.3,2050.0 L331.3,2051.4 L333.3,2053.0 L335.3,2054.8 L337.3,2056.7 L339.3,2058.8 L341.3,2061.0 L343.3,2063.4 L345.3,2065.9 L347.3,2068.5 L349.3,2071.2 L351.3,2073.9 L353.3,2076.7 L355.3,2079.6 L357.3,2082.6 L359.3,2085.5 L361.3,2088.5 L363.3,2091.5 L365.3,2094.5 L367.3,2097.5 L369.3,2100.5 L371.3,2103.4 L373.3,2106.3 L375.3,2109.1 L377.3,2111.9 L379.3,2114.5 L381.3,2117.1 L383.3,2119.6 L385.3,2122.0 L387.3,2124.3 L389.3,2126.5 L391.3,2128.6 L393.3,2130.5 L395.3,2132.4 L397.3,2134.2 L399.3,2135.9 L401.3,2137.4 L403.3,2138.9 L405.3,2140.2 L407.3,2141.4 L409.3,2142.5 L411.3,2143.6 L413.3,2144.5 L415.3,2145.3 L417.3,2146.1 L419.3,2146.7 L421.3,2147.3 L423.3,2147.8 L425.3,2148.2 L427.3,2148.6 L429.3,2148.8 L431.3,2149.1 L433.3,2149.2 L435.3,2149.3 L437.3,2149.3 L439.3,2149.3 L441.3,2149.3 L443.3,2149.1 L445.3,2149.0 L447.3,2148.8 L449.3,2148.6 L451.3,2148.3 L453.3,2148.1 L455.3,2147.7 L457.3,2147.4 L459.3,2147.0 L461.3,2146.6 L463.3,2146.2 L465.3,2145.8 L467.3,2145.3 L469.3,2144.7 L471.3,2144.2 L473.3,2143.6 L475.3,2142.9 L477.3,2142.2 L479.3,2141.5 L481.3,2140.8 L483.3,2139.9 L485.3,2139.1 L487.3,2138.2 L489.3,2137.2 L491.3,2136.2 L493.3,2135.2 L495.3,2134.1 L497.3,2132.9 L499.3,2131.7 L501.3,2130.4 L503.3,2129.1 L505.3,2127.7 L507.3,2126.2 L509.3,2124.7 L511.3,2123.2 L513.3,2121.6 L515.3,2119.9 L517.3,2118.2 L519.3,2116.4 L521.3,2114.6 L523.3,2112.8 L525.3,2110.9 L527.3,2109.0 L529.3,2107.0 L531.3,2105.1 L533.3,2103.1 L535.3,2101.1 L537.3,2099.0 L539.3,2096.9 L541.3,2094.9 L543.3,2092.8 L545.3,2090.7 L547.3,2088.6 L549.3,2086.4 L551.3,2084.3 L553.3,2082.2 L555.3,2080.1 L557.3,2078.0 L559.3,2075.9 L561.3,2073.8 L563.3,2071.7 L565.3,2069.6 L567.3,2067.6 L569.3,2065.5 L571.3,2063.5 L573.3,2061.6 L575.3,2059.6 L577.3,2057.8 L579.3,2055.9 L581.3,2054.1 L583.3,2052.3 L585.3,2050.6 L587.3,2049.0 L589.3,2047.4 L591.3,2045.9 L593.3,2044.5 L595.3,2043.1 L597.3,2041.8 L599.3,2040.6 L601.3,2039.5 L603.3,2038.5 L605.3,2037.6 L607.3,2036.7 L609.3,2036.0 L611.3,2035.4 L613.3,2034.9 L615.3,2034.5 L617.3,2034.2 L619.3,2034.0 L621.3,2034.0 L623.3,2034.1 L625.3,2034.3 L627.3,2034.7 L629.3,2035.1 L631.3,2035.7 L633.3,2036.4 L635.3,2037.2 L637.3,2038.2 L639.3,2039.2 L641.3,2040.3 L643.3,2041.6 L645.3,2043.0 L647.3,2044.4 L649.3,2046.0 L651.3,2047.6 L653.3,2049.4 L655.3,2051.3 L657.3,2053.2 L659.3,2055.2 L661.3,2057.4 L663.3,2059.6 L665.3,2061.9 L667.3,2064.3 L669.3,2066.7 L671.3,2069.3 L673.3,2071.9 L675.3,2074.6 L677.3,2077.3 L679.3,2080.2 L681.3,2083.1 L683.3,2086.1 L685.3,2089.1 L687.3,2092.2 L689.3,2095.4 L691.3,2098.6 L693.3,2101.9 L695.3,2105.2 L697.3,2108.6 L699.3,2112.0 L701.3,2115.5 L703.3,2119.1 L705.3,2122.6 L707.3,2126.3 L709.3,2129.9 L711.3,2133.6 L713.3,2137.4 L715.3,2141.1 L717.3,2144.9 L719.3,2148.8 L721.3,2152.6 L723.3,2156.5 L725.3,2160.4 L727.3,2164.3 L729.3,2168.2 L731.3,2172.0 L733.3,2175.9 L735.3,2179.7 L737.3,2183.5 L739.3,2187.3 L741.3,2191.1 L743.3,2194.7 L745.3,2198.4 L747.3,2202.0 L749.3,2205.5 L751.3,2208.9 L753.3,2212.3 L755.3,2215.6 L757.3,2218.8 L759.3,2222.0 L761.3,2225.0 L763.3,2228.0 L765.3,2230.9 L767.3,2233.7 L769.3,2236.4 L771.3,2239.0 L773.3,2241.5 L775.3,2243.9 L777.3,2246.2 L779.3,2248.4 L781.3,2250.5 L783.3,2252.5 L785.3,2254.4 L787.3,2256.2 L789.3,2257.8 L791.3,2259.4 L793.3,2260.9 L795.3,2262.3 L797.3,2263.6 L799.3,2264.8 L801.3,2266.0 L803.3,2267.1 L805.3,2268.1 L807.3,2269.0 L809.3,2269.9 L811.3,2270.8 L813.3,2271.6 L815.3,2272.3 L817.3,2273.0 L819.3,2273.7 L821.3,2274.3 L823.3,2274.9 L825.3,2275.4 L827.3,2276.0 L829.3,2276.4 L831.3,2276.9 L833.3,2277.3 L835.3,2277.6 L837.3,2278.0 L839.3,2278.3 L841.3,2278.6 L843.3,2278.8 L845.3,2279.0 L847.3,2279.2 L849.3,2279.3 L851.3,2279.5 L853.3,2279.6 L855.3,2279.6 L857.3,2279.7 L859.3,2279.7 L861.3,2279.7 L863.3,2279.6 L865.3,2279.6 L867.3,2279.5 L869.3,2279.4 L871.3,2279.3 L873.3,2279.1 L875.3,2279.0 L877.3,2278.8 L879.3,2278.6 L881.3,2278.4 L883.3,2278.1 L885.3,2277.9 L887.3,2277.6 L889.3,2277.3 L891.3,2277.0 L893.3,2276.7 L895.3,2276.3 L897.3,2275.9 L899.3,2275.4 L901.3,2275.0 L903.3,2274.5 L905.3,2273.9 L907.3,2273.3 L909.3,2272.7 L911.3,2272.0 L913.3,2271.3 L915.3,2270.6 L917.3,2269.8 L919.3,2268.9 L921.3,2268.0 L923.3,2267.0 L925.3,2266.0 L927.3,2264.9 L929.3,2263.7 L931.3,2262.5 L933.3,2261.3 L935.3,2259.9 L937.3,2258.5 L939.3,2257.0 L941.3,2255.5 L943.3,2253.8 L945.3,2252.1 L947.3,2250.3 L949.3,2248.5 L951.3,2246.5 L953.3,2244.5 L955.3,2242.4 L957.3,2240.2 L959.3,2237.9 L961.3,2235.5 L963.3,2233.0 L965.3,2230.4 L967.3,2227.7 L969.3,2224.9 L971.3,2222.0 L973.3,2218.9 L975.3,2215.8 L977.3,2212.6 L979.3,2209.2 L981.3,2205.7 L983.3,2202.1 L985.3,2198.4 L987.3,2194.6 L989.3,2190.7 L991.3,2186.7 L993.3,2182.6 L995.3,2178.5 L997.3,2174.4 L999.3,2170.1 L1001.3,2165.9 L1003.3,2161.6 L1005.3,2157.3 L1007.3,2153.0 L1009.3,2148.7 L1011.3,2144.4 L1013.3,2140.2 L1015.3,2136.0 L1017.3,2131.8 L1019.3,2127.6 L1021.3,2123.6 L1023.3,2119.6 L1025.3,2115.7 L1027.3,2111.8 L1029.3,2108.2 L1031.3,2104.6 L1033.3,2101.1 L1035.3,2097.8 L1037.3,2094.7 L1039.3,2091.7 L1041.3,2088.9 L1043.3,2086.3 L1045.3,2083.9 L1047.3,2081.8 L1049.3,2079.8 L1051.3,2078.0 L1053.3,2076.5 L1055.3,2075.1 L1057.3,2074.0 L1059.3,2073.0 L1061.3,2072.2 L1063.3,2071.5 L1065.3,2071.0 L1067.3,2070.6 L1069.3,2070.4 L1071.3,2070.3 L1073.3,2070.3 L1075.3,2070.4 L1077.3,2070.7 L1079.3,2071.0 L1081.3,2071.5 L1083.3,2072.1 L1085.3,2072.7 L1087.3,2073.5 L1089.3,2074.5 L1091.3,2075.5 L1093.3,2076.6 L1095.3,2077.9 L1097.3,2079.3 L1099.3,2080.8 L1101.3,2082.4 L1103.3,2084.1 L1105.3,2085.9 L1107.3,2087.7 L1109.3,2089.5 L1111.3,2091.4 L1113.3,2093.2 L1115.3,2094.9 L1117.3,2096.6 L1119.3,2098.2 L1121.3,2099.7 L1123.3,2101.2 L1125.3,2102.5 L1127.3,2103.8 L1129.3,2105.0 L1131.3,2106.1 L1133.3,2107.1 L1135.3,2108.0 L1137.3,2108.9 L1139.3,2109.6 L1141.3,2110.2 L1143.3,2110.7 L1145.3,2111.1 L1147.3,2111.4 L1149.3,2111.6 L1151.3,2111.8 L1153.3,2111.9 L1155.3,2112.0 L1157.3,2112.0 L1159.3,2111.9 L1161.3,2111.9 L1163.3,2111.8 L1165.3,2111.7 L1167.3,2111.6 L1169.3,2111.5 L1171.3,2111.4 L1173.3,2111.4 L1175.3,2111.3 L1177.3,2111.3 L1179.3,2111.4 L1181.3,2111.5 L1183.3,2111.6 L1185.3,2111.9 L1187.3,2112.2 L1189.3,2112.6 L1191.3,2113.1 L1193.3,2113.7 L1195.3,2114.4 L1197.3,2115.3 L1199.3,2116.3 L1201.3,2117.4 L1203.3,2118.6 L1205.3,2119.9 L1207.3,2121.3 L1209.3,2122.8 L1211.3,2124.4 L1213.3,2126.1 L1215.3,2127.8 L1217.3,2129.5 L1219.3,2131.3 L1221.3,2133.1 L1223.3,2135.0 L1225.3,2136.8 L1227.3,2138.7 L1229.3,2140.5 L1231.3,2142.3 L1233.3,2144.1 L1235.3,2145.8 L1237.3,2147.5 L1239.3,2149.1 L1241.3,2150.6 L1243.3,2152.1 L1245.3,2153.5 L1247.3,2154.7 L1249.3,2155.8 L1251.3,2156.9 L1253.3,2157.7 L1255.3,2158.5 L1257.3,2159.0 L1259.3,2159.4 L1261.3,2159.7 L1263.3,2159.7 L1265.3,2159.5 L1267.3,2159.2 L1269.3,2158.6 L1271.3,2157.7 L1273.3,2156.7 L1275.3,2155.4 L1277.3,2153.8 L1279.3,2152.0 L1281.3,2149.8 L1283.3,2147.4 L1285.3,2144.8 L1287.3,2141.8 L1289.3,2138.6 L1291.3,2135.0 L1293.3,2131.2 L1295.3,2127.1 L1297.3,2122.7 L1299.3,2118.1 L1301.3,2113.2 L1303.3,2108.2 L1305.3,2103.1 L1307.3,2097.9 L1309.3,2092.5 L1311.3,2087.2 L1313.3,2081.8 L1315.3,2076.4 L1317.3,2071.0 L1319.3,2065.5 L1321.3,2060.1 L1323.3,2054.7 L1325.3,2049.3 L1327.3,2044.0 L1329.3,2038.7 L1331.3,2033.5 L1333.3,2028.3 L1335.3,2023.3 L1337.3,2018.3 L1339.3,2013.4 L1341.3,2008.6 L1343.3,2004.0 L1345.3,1999.4 L1347.3,1995.0 L1349.3,1990.7 L1351.3,1986.6 L1353.3,1982.5 L1355.3,1978.6 L1357.3,1974.8 L1359.3,1971.1 L1361.3,1967.6 L1363.3,1964.1 L1365.3,1960.9 L1367.3,1957.7 L1369.3,1954.7 L1371.3,1951.8 L1373.3,1949.0 L1375.3,1946.4 L1377.3,1943.9 L1379.3,1941.5 L1381.3,1939.2 L1383.3,1937.0 L1385.3,1934.8 L1387.3,1932.8 L1389.3,1930.8 L1391.3,1928.8 L1393.3,1926.9 L1395.3,1925.0 L1397.3,1923.1 L1399.3,1921.2 L1401.3,1919.3 L1403.3,1917.4 L1405.3,1915.4 L1407.3,1913.4 L1409.3,1911.5 L1411.3,1909.5 L1413.3,1907.5 L1415.3,1905.5 L1417.3,1903.6 L1419.3,1901.7 L1421.3,1899.9 L1423.3,1898.2 L1425.3,1896.5 L1427.3,1895.0 L1429.3,1893.6 L1431.3,1892.3 L1433.3,1891.2 L1435.3,1890.2 L1437.3,1889.5 L1439.3,1888.9 L1441.3,1888.5 L1443.3,1888.3 L1445.3,1888.4 L1447.3,1888.7 L1449.3,1889.3 L1451.3,1890.2 L1453.3,1891.4 L1455.3,1892.9 L1457.3,1894.7 L1459.3,1896.9 L1461.3,1899.4 L1463.3,1902.4 L1465.3,1905.7 L1467.3,1909.4 L1469.3,1913.5 L1471.3,1917.9 L1473.3,1922.7 L1475.3,1927.8 L1477.3,1933.2 L1479.3,1938.9 L1481.3,1945.0 L1483.3,1951.3 L1485.3,1957.9 L1487.3,1964.8 L1489.3,1971.9 L1491.3,1979.3 L1493.3,1986.9 L1495.3,1994.7 L1497.3,2002.8 L1499.3,2011.1 L1501.3,2019.5 L1503.3,2028.1 L1505.3,2036.9 L1507.3,2045.9 L1509.3,2055.0 L1511.3,2064.3 L1513.3,2073.7 L1515.3,2083.3 L1517.3,2093.0 L1519.3,2102.8 L1521.3,2112.7 L1523.3,2122.8 L1525.3,2132.8 L1527.3,2142.9 L1529.3,2153.0 L1531.3,2162.9 L1533.3,2172.7 L1535.3,2182.3 L1537.3,2191.7 L1539.3,2200.8 L1541.3,2209.5 L1543.3,2218.0 L1545.3,2226.2 L1547.3,2234.1 L1549.3,2241.8 L1551.3,2249.3 L1553.3,2256.5 L1555.3,2263.4 L1557.3,2270.0 L1559.3,2276.3 L1561.3,2282.2 L1563.3,2287.7 L1565.3,2292.8 L1567.3,2297.7 L1569.3,2302.3 L1571.3,2306.8 L1573.3,2311.1 L1575.3,2315.5 L1577.3,2319.8 L1579.3,2324.1 L1581.3,2328.4 L1583.3,2332.6 L1585.3,2336.7 L1587.3,2340.6 L1589.3,2344.4 L1591.3,2347.9 L1593.3,2351.3 L1595.3,2354.4 L1597.3,2357.2 L1599.3,2359.9 L1601.3,2362.4 L1603.3,2364.8 L1605.3,2367.0 L1607.3,2369.0 L1609.3,2370.9 L1611.3,2372.6 L1613.3,2374.3 L1615.3,2375.8 L1617.3,2377.2 L1619.3,2378.6 L1621.3,2379.9 L1623.3,2381.0 L1625.3,2382.2 L1627.3,2383.2 L1629.3,2384.2 L1631.3,2385.1 L1633.3,2386.0 L1635.3,2386.7 L1637.3,2387.5 L1639.3,2388.1 L1641.3,2388.8 L1643.3,2389.3 L1645.3,2389.8 L1647.3,2390.3 L1649.3,2390.7 L1651.3,2391.1 L1653.3,2391.5 L1655.3,2391.8 L1657.3,2392.0 L1659.3,2392.3 L1661.3,2392.5 L1663.3,2392.7 L1665.3,2392.9 L1667.3,2393.0 L1669.3,2393.2 L1671.3,2393.3 L1673.3,2393.4 L1675.3,2393.5 L1677.3,2393.5 L1679.3,2393.6 L1681.3,2393.7 L1683.3,2393.8 L1685.3,2393.9 L1687.3,2393.9 L1689.3,2394.0 L1691.3,2394.1 L1693.3,2394.3 L1695.3,2394.4 L1697.3,2394.5" fill="none" stroke="#000" stroke-width="9.1" stroke-linejoin="round" stroke-linecap="butt"/>
<g shape-rendering="crispEdges" fill="#000">
<rect x="199.3" y="948.0" width="1499.5" height="6"/>
<rect x="199.6" y="922.0" width="6.4" height="29.0"/>
<rect x="300.7" y="936.0" width="6.4" height="15.0"/>
<rect x="401.7" y="922.0" width="6.4" height="29.0"/>
<rect x="502.8" y="936.0" width="6.4" height="15.0"/>
<rect x="603.8" y="922.0" width="6.4" height="29.0"/>
<rect x="704.8" y="936.0" width="6.4" height="15.0"/>
<rect x="805.9" y="922.0" width="6.4" height="29.0"/>
<rect x="907.0" y="936.0" width="6.4" height="15.0"/>
<rect x="1008.0" y="922.0" width="6.4" height="29.0"/>
<rect x="1109.0" y="936.0" width="6.4" height="15.0"/>
<rect x="1210.1" y="922.0" width="6.4" height="29.0"/>
<rect x="1311.1" y="936.0" width="6.4" height="15.0"/>
<rect x="1412.2" y="922.0" width="6.4" height="29.0"/>
<rect x="1513.2" y="936.0" width="6.4" height="15.0"/>
<rect x="1614.3" y="922.0" width="6.4" height="29.0"/>
</g>
<g font-family='"Liberation Sans", sans-serif' font-weight="bold" font-size="69" text-anchor="middle" fill="#000">
<text transform="translate(202.8,1037.6) scale(1,1.045)">965</text>
<text transform="translate(404.9,1037.6) scale(1,1.045)">960</text>
<text transform="translate(607.0,1037.6) scale(1,1.045)">955</text>
<text transform="translate(809.1,1037.6) scale(1,1.045)">950</text>
<text transform="translate(1011.2,1037.6) scale(1,1.045)">945</text>
<text transform="translate(1213.3,1037.6) scale(1,1.045)">940</text>
<text transform="translate(1415.4,1037.6) scale(1,1.045)">935</text>
<text transform="translate(1617.5,1037.6) scale(1,1.045)">930</text>
</g>
<g shape-rendering="crispEdges" fill="#000">
<rect x="199.3" y="1710.0" width="1499.5" height="6"/>
<rect x="199.6" y="1684.0" width="6.4" height="29.0"/>
<rect x="300.7" y="1698.0" width="6.4" height="15.0"/>
<rect x="401.7" y="1684.0" width="6.4" height="29.0"/>
<rect x="502.8" y="1698.0" width="6.4" height="15.0"/>
<rect x="603.8" y="1684.0" width="6.4" height="29.0"/>
<rect x="704.8" y="1698.0" width="6.4" height="15.0"/>
<rect x="805.9" y="1684.0" width="6.4" height="29.0"/>
<rect x="907.0" y="1698.0" width="6.4" height="15.0"/>
<rect x="1008.0" y="1684.0" width="6.4" height="29.0"/>
<rect x="1109.0" y="1698.0" width="6.4" height="15.0"/>
<rect x="1210.1" y="1684.0" width="6.4" height="29.0"/>
<rect x="1311.1" y="1698.0" width="6.4" height="15.0"/>
<rect x="1412.2" y="1684.0" width="6.4" height="29.0"/>
<rect x="1513.2" y="1698.0" width="6.4" height="15.0"/>
<rect x="1614.3" y="1684.0" width="6.4" height="29.0"/>
</g>
<g font-family='"Liberation Sans", sans-serif' font-weight="bold" font-size="69" text-anchor="middle" fill="#000">
<text transform="translate(202.8,1799.6) scale(1,1.045)">965</text>
<text transform="translate(404.9,1799.6) scale(1,1.045)">960</text>
<text transform="translate(607.0,1799.6) scale(1,1.045)">955</text>
<text transform="translate(809.1,1799.6) scale(1,1.045)">950</text>
<text transform="translate(1011.2,1799.6) scale(1,1.045)">945</text>
<text transform="translate(1213.3,1799.6) scale(1,1.045)">940</text>
<text transform="translate(1415.4,1799.6) scale(1,1.045)">935</text>
<text transform="translate(1617.5,1799.6) scale(1,1.045)">930</text>
</g>
<g shape-rendering="crispEdges" fill="#000">
<rect x="199.3" y="2472.0" width="1499.5" height="6"/>
<rect x="199.6" y="2446.0" width="6.4" height="29.0"/>
<rect x="300.7" y="2460.0" width="6.4" height="15.0"/>
<rect x="401.7" y="2446.0" width="6.4" height="29.0"/>
<rect x="502.8" y="2460.0" width="6.4" height="15.0"/>
<rect x="603.8" y="2446.0" width="6.4" height="29.0"/>
<rect x="704.8" y="2460.0" width="6.4" height="15.0"/>
<rect x="805.9" y="2446.0" width="6.4" height="29.0"/>
<rect x="907.0" y="2460.0" width="6.4" height="15.0"/>
<rect x="1008.0" y="2446.0" width="6.4" height="29.0"/>
<rect x="1109.0" y="2460.0" width="6.4" height="15.0"/>
<rect x="1210.1" y="2446.0" width="6.4" height="29.0"/>
<rect x="1311.1" y="2460.0" width="6.4" height="15.0"/>
<rect x="1412.2" y="2446.0" width="6.4" height="29.0"/>
<rect x="1513.2" y="2460.0" width="6.4" height="15.0"/>
<rect x="1614.3" y="2446.0" width="6.4" height="29.0"/>
</g>
<g font-family='"Liberation Sans", sans-serif' font-weight="bold" font-size="69" text-anchor="middle" fill="#000">
<text transform="translate(202.8,2561.6) scale(1,1.045)">965</text>
<text transform="translate(404.9,2561.6) scale(1,1.045)">960</text>
<text transform="translate(607.0,2561.6) scale(1,1.045)">955</text>
<text transform="translate(809.1,2561.6) scale(1,1.045)">950</text>
<text transform="translate(1011.2,2561.6) scale(1,1.045)">945</text>
<text transform="translate(1213.3,2561.6) scale(1,1.045)">940</text>
<text transform="translate(1415.4,2561.6) scale(1,1.045)">935</text>
<text transform="translate(1617.5,2561.6) scale(1,1.045)">930</text>
</g>
<g font-family='"Liberation Sans", sans-serif' fill="#000">
<text x="1357.3" y="64.5" font-size="55.4" >Cu 2p<tspan font-size="37" dy="14">3/2</tspan></text>
<text x="1382.5" y="168.5" font-size="55.4" >Cu<tspan font-size="37" dy="14">2</tspan><tspan dy="-14">O or Cu</tspan><tspan font-size="37" dy="-22">0</tspan></text>
<text x="596.5" y="245" font-size="55.4" >Cu 2p<tspan font-size="37" dy="14">1/2</tspan></text>
<text x="203" y="365" font-size="55.4" >Cu-Au/Ce</text>
<text x="936.6" y="686" font-size="55.4" >Shake-up</text>
<text x="935.8" y="754" font-size="55.4" >peaks</text>
<text x="1454" y="1145.7" font-size="55.4" >CuO</text>
<text x="192.3" y="1227.6" font-size="55.0" >Cu-Au/Ce-Al</text>
<text x="201.8" y="1438" font-size="55.4" >Shake-up</text>
<text x="201.1" y="1505.6" font-size="55.4" >peak</text>
<text x="915.7" y="1582" font-size="55.4" >Shake-up</text>
<text x="915.3" y="1649.4" font-size="55.4" >peaks</text>
<text x="181.1" y="2006.8" font-size="55.0" >Cu-Au/Al</text>
<text x="207.3" y="2227.8" font-size="55.4" >Shake-up</text>
<text x="206.9" y="2296.4" font-size="55.4" >peak</text>
<text x="913.4" y="2352" font-size="55.4" >Shake-up</text>
<text x="913" y="2420" font-size="55.4" >peaks</text>
<text x="441.6" y="2712" font-size="107.8" font-weight="bold">Binding energy (eV)</text>
<text x="0" y="0" font-size="108" font-weight="bold" transform="translate(93,1691) rotate(-90)">Intensity (a.u.)</text>
</g>
</svg>
</body></html>
